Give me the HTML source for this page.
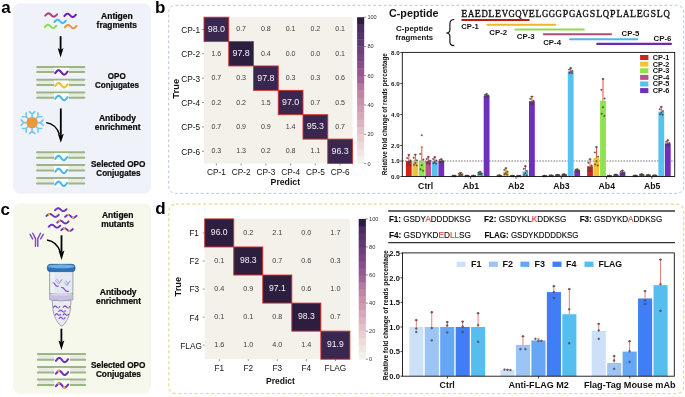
<!DOCTYPE html>
<html><head><meta charset="utf-8"><style>
html,body{margin:0;padding:0;background:#fff;}
svg{display:block;will-change:transform;}
</style></head><body>
<svg width="685" height="397" viewBox="0 0 685 397">
<rect width="685" height="397" fill="#fff"/>
<text x="1.30" y="13.10" font-size="17" font-family='"Liberation Sans", sans-serif' font-weight="bold" fill="#000" text-anchor="start" >a</text>
<text x="154.90" y="12.90" font-size="17" font-family='"Liberation Sans", sans-serif' font-weight="bold" fill="#000" text-anchor="start" >b</text>
<text x="0.50" y="215.00" font-size="17" font-family='"Liberation Sans", sans-serif' font-weight="bold" fill="#000" text-anchor="start" >c</text>
<text x="155.20" y="214.40" font-size="17" font-family='"Liberation Sans", sans-serif' font-weight="bold" fill="#000" text-anchor="start" >d</text>
<rect x="13" y="3.5" width="138" height="190.2" rx="7" fill="#eff2f8"/>
<polyline points="45.20,15.61 45.70,15.14 46.19,14.66 46.69,14.21 47.18,13.82 47.68,13.54 48.18,13.38 48.67,13.36 49.17,13.48 49.66,13.73 50.16,14.09 50.65,14.52 51.15,15.00 51.65,15.48 52.14,15.91 52.64,16.27 53.13,16.52 53.63,16.64 54.12,16.62 54.62,16.46 55.12,16.18 55.61,15.79 56.11,15.34 56.60,14.86 57.10,14.39" fill="none" stroke="#b03f6f" stroke-width="2.0" stroke-linecap="round" stroke-linejoin="round"/>
<polyline points="64.40,15.96 64.88,15.49 65.36,15.01 65.84,14.56 66.32,14.17 66.80,13.89 67.28,13.73 67.75,13.71 68.23,13.83 68.71,14.08 69.19,14.44 69.67,14.87 70.15,15.35 70.63,15.83 71.11,16.26 71.59,16.62 72.07,16.87 72.55,16.99 73.03,16.97 73.50,16.81 73.98,16.53 74.46,16.14 74.94,15.69 75.42,15.21 75.90,14.74" fill="none" stroke="#6a1fb0" stroke-width="2.0" stroke-linecap="round" stroke-linejoin="round"/>
<polyline points="54.40,21.96 54.88,21.49 55.35,21.01 55.82,20.56 56.30,20.17 56.77,19.89 57.25,19.73 57.73,19.71 58.20,19.83 58.67,20.08 59.15,20.44 59.62,20.87 60.10,21.35 60.57,21.83 61.05,22.26 61.52,22.62 62.00,22.87 62.48,22.99 62.95,22.97 63.42,22.81 63.90,22.53 64.38,22.14 64.85,21.69 65.33,21.21 65.80,20.74" fill="none" stroke="#4ab8ee" stroke-width="2.0" stroke-linecap="round" stroke-linejoin="round"/>
<polyline points="44.90,26.96 45.38,26.49 45.85,26.01 46.32,25.56 46.80,25.17 47.27,24.89 47.75,24.73 48.23,24.71 48.70,24.83 49.17,25.08 49.65,25.44 50.12,25.87 50.60,26.35 51.07,26.83 51.55,27.26 52.02,27.62 52.50,27.87 52.98,27.99 53.45,27.97 53.92,27.81 54.40,27.53 54.88,27.14 55.35,26.69 55.83,26.21 56.30,25.74" fill="none" stroke="#8ee04a" stroke-width="2.0" stroke-linecap="round" stroke-linejoin="round"/>
<polyline points="64.90,27.21 65.38,26.74 65.87,26.26 66.35,25.81 66.83,25.42 67.32,25.14 67.80,24.98 68.28,24.96 68.77,25.08 69.25,25.33 69.73,25.69 70.22,26.12 70.70,26.60 71.18,27.08 71.67,27.51 72.15,27.87 72.63,28.12 73.12,28.24 73.60,28.22 74.08,28.06 74.57,27.78 75.05,27.39 75.53,26.94 76.02,26.46 76.50,25.99" fill="none" stroke="#e8963c" stroke-width="2.0" stroke-linecap="round" stroke-linejoin="round"/>
<line x1="60.60" y1="36.20" x2="60.60" y2="50.10" stroke="#000" stroke-width="1.8" />
<path d="M57.70,48.10 L60.60,57.40 L63.50,48.10 L60.60,49.90 Z" fill="#000"/>
<rect x="37.20" y="67.40" width="47.10" height="4.20" fill="#e8ebe1" />
<line x1="37.10" y1="66.90" x2="84.40" y2="66.90" stroke="#9bb585" stroke-width="2.0" stroke-linecap="round"/>
<line x1="37.10" y1="72.10" x2="84.40" y2="72.10" stroke="#9bb585" stroke-width="2.0" stroke-linecap="round"/>
<rect x="54.00" y="67.80" width="14.80" height="8.00" fill="#ffffff" />
<polyline points="55.20,73.21 55.72,72.58 56.23,71.94 56.75,71.34 57.27,70.83 57.78,70.45 58.30,70.24 58.82,70.21 59.33,70.37 59.85,70.70 60.37,71.18 60.88,71.76 61.40,72.40 61.92,73.04 62.43,73.62 62.95,74.10 63.47,74.43 63.98,74.59 64.50,74.56 65.02,74.35 65.53,73.97 66.05,73.46 66.57,72.86 67.08,72.22 67.60,71.59" fill="none" stroke="#6a1fb0" stroke-width="2.1" stroke-linecap="round" stroke-linejoin="round"/>
<rect x="37.20" y="80.20" width="47.10" height="4.20" fill="#e8ebe1" />
<line x1="37.10" y1="79.70" x2="84.40" y2="79.70" stroke="#9bb585" stroke-width="2.0" stroke-linecap="round"/>
<line x1="37.10" y1="84.90" x2="84.40" y2="84.90" stroke="#9bb585" stroke-width="2.0" stroke-linecap="round"/>
<rect x="54.00" y="80.60" width="14.80" height="8.00" fill="#ffffff" />
<polyline points="55.20,86.01 55.72,85.38 56.23,84.74 56.75,84.14 57.27,83.63 57.78,83.25 58.30,83.04 58.82,83.01 59.33,83.17 59.85,83.50 60.37,83.98 60.88,84.56 61.40,85.20 61.92,85.84 62.43,86.42 62.95,86.90 63.47,87.23 63.98,87.39 64.50,87.36 65.02,87.15 65.53,86.77 66.05,86.26 66.57,85.66 67.08,85.02 67.60,84.39" fill="none" stroke="#f0c030" stroke-width="2.1" stroke-linecap="round" stroke-linejoin="round"/>
<rect x="37.20" y="93.00" width="47.10" height="4.20" fill="#e8ebe1" />
<line x1="37.10" y1="92.50" x2="84.40" y2="92.50" stroke="#9bb585" stroke-width="2.0" stroke-linecap="round"/>
<line x1="37.10" y1="97.70" x2="84.40" y2="97.70" stroke="#9bb585" stroke-width="2.0" stroke-linecap="round"/>
<rect x="54.00" y="93.40" width="14.80" height="8.00" fill="#ffffff" />
<polyline points="55.20,98.81 55.72,98.18 56.23,97.54 56.75,96.94 57.27,96.43 57.78,96.05 58.30,95.84 58.82,95.81 59.33,95.97 59.85,96.30 60.37,96.78 60.88,97.36 61.40,98.00 61.92,98.64 62.43,99.22 62.95,99.70 63.47,100.03 63.98,100.19 64.50,100.16 65.02,99.95 65.53,99.57 66.05,99.06 66.57,98.46 67.08,97.82 67.60,97.19" fill="none" stroke="#4ab8ee" stroke-width="2.1" stroke-linecap="round" stroke-linejoin="round"/>
<rect x="37.10" y="152.70" width="47.10" height="4.50" fill="#e8ebe1" />
<line x1="37.00" y1="152.20" x2="84.30" y2="152.20" stroke="#9bb585" stroke-width="2.0" stroke-linecap="round"/>
<line x1="37.00" y1="157.70" x2="84.30" y2="157.70" stroke="#9bb585" stroke-width="2.0" stroke-linecap="round"/>
<rect x="54.10" y="153.10" width="14.20" height="8.30" fill="#ffffff" />
<polyline points="55.30,158.81 55.79,158.18 56.28,157.54 56.78,156.94 57.27,156.43 57.76,156.05 58.25,155.84 58.74,155.81 59.23,155.97 59.73,156.30 60.22,156.78 60.71,157.36 61.20,158.00 61.69,158.64 62.18,159.22 62.68,159.70 63.17,160.03 63.66,160.19 64.15,160.16 64.64,159.95 65.13,159.57 65.62,159.06 66.12,158.46 66.61,157.82 67.10,157.19" fill="none" stroke="#4ab8ee" stroke-width="2.1" stroke-linecap="round" stroke-linejoin="round"/>
<rect x="37.10" y="165.60" width="47.10" height="4.50" fill="#e8ebe1" />
<line x1="37.00" y1="165.10" x2="84.30" y2="165.10" stroke="#9bb585" stroke-width="2.0" stroke-linecap="round"/>
<line x1="37.00" y1="170.60" x2="84.30" y2="170.60" stroke="#9bb585" stroke-width="2.0" stroke-linecap="round"/>
<rect x="54.10" y="166.00" width="14.20" height="8.30" fill="#ffffff" />
<polyline points="55.30,171.71 55.79,171.08 56.28,170.44 56.78,169.84 57.27,169.33 57.76,168.95 58.25,168.74 58.74,168.71 59.23,168.87 59.73,169.20 60.22,169.68 60.71,170.26 61.20,170.90 61.69,171.54 62.18,172.12 62.68,172.60 63.17,172.93 63.66,173.09 64.15,173.06 64.64,172.85 65.13,172.47 65.62,171.96 66.12,171.36 66.61,170.72 67.10,170.09" fill="none" stroke="#4ab8ee" stroke-width="2.1" stroke-linecap="round" stroke-linejoin="round"/>
<rect x="37.10" y="178.50" width="47.10" height="4.50" fill="#e8ebe1" />
<line x1="37.00" y1="178.00" x2="84.30" y2="178.00" stroke="#9bb585" stroke-width="2.0" stroke-linecap="round"/>
<line x1="37.00" y1="183.50" x2="84.30" y2="183.50" stroke="#9bb585" stroke-width="2.0" stroke-linecap="round"/>
<rect x="54.10" y="178.90" width="14.20" height="8.30" fill="#ffffff" />
<polyline points="55.30,184.61 55.79,183.98 56.28,183.34 56.78,182.74 57.27,182.23 57.76,181.85 58.25,181.64 58.74,181.61 59.23,181.77 59.73,182.10 60.22,182.58 60.71,183.16 61.20,183.80 61.69,184.44 62.18,185.02 62.68,185.50 63.17,185.83 63.66,185.99 64.15,185.96 64.64,185.75 65.13,185.37 65.62,184.86 66.12,184.26 66.61,183.62 67.10,182.99" fill="none" stroke="#4ab8ee" stroke-width="2.1" stroke-linecap="round" stroke-linejoin="round"/>
<path d="M37.10,122.60 L40.50,122.60 M43.10,125.30 L40.50,122.60 L43.10,119.90" stroke="#72caee" stroke-width="1.6" fill="none" stroke-linecap="round" stroke-linejoin="round"/>
<path d="M35.64,126.14 L38.04,128.54 M37.97,132.29 L38.04,128.54 L41.79,128.47" stroke="#72caee" stroke-width="1.6" fill="none" stroke-linecap="round" stroke-linejoin="round"/>
<path d="M32.10,127.60 L32.10,131.00 M29.40,133.60 L32.10,131.00 L34.80,133.60" stroke="#72caee" stroke-width="1.6" fill="none" stroke-linecap="round" stroke-linejoin="round"/>
<path d="M28.56,126.14 L26.16,128.54 M22.41,128.47 L26.16,128.54 L26.23,132.29" stroke="#72caee" stroke-width="1.6" fill="none" stroke-linecap="round" stroke-linejoin="round"/>
<path d="M27.10,122.60 L23.70,122.60 M21.10,119.90 L23.70,122.60 L21.10,125.30" stroke="#72caee" stroke-width="1.6" fill="none" stroke-linecap="round" stroke-linejoin="round"/>
<path d="M28.56,119.06 L26.16,116.66 M26.23,112.91 L26.16,116.66 L22.41,116.73" stroke="#72caee" stroke-width="1.6" fill="none" stroke-linecap="round" stroke-linejoin="round"/>
<path d="M32.10,117.60 L32.10,114.20 M34.80,111.60 L32.10,114.20 L29.40,111.60" stroke="#72caee" stroke-width="1.6" fill="none" stroke-linecap="round" stroke-linejoin="round"/>
<path d="M35.64,119.06 L38.04,116.66 M41.79,116.73 L38.04,116.66 L37.97,112.91" stroke="#72caee" stroke-width="1.6" fill="none" stroke-linecap="round" stroke-linejoin="round"/>
<circle cx="32.1" cy="122.6" r="5.7" fill="#e99a3e"/>
<line x1="60.80" y1="108.50" x2="60.80" y2="135.80" stroke="#000" stroke-width="1.8" />
<path d="M57.80,133.80 L60.80,142.80 L63.80,133.80 L60.80,135.60 Z" fill="#000"/>
<path d="M46.2,122.6 Q56,124 59.5,134.5" stroke="#000" stroke-width="1.4" fill="none"/>
<text x="101.00" y="18.70" font-size="8.2" font-family='"Liberation Sans", sans-serif' font-weight="bold" fill="#0a0a0a" text-anchor="start" textLength="31.82" lengthAdjust="spacingAndGlyphs"  stroke="#0a0a0a" stroke-width="0.22">Antigen</text>
<text x="96.60" y="27.90" font-size="8.2" font-family='"Liberation Sans", sans-serif' font-weight="bold" fill="#0a0a0a" text-anchor="start" textLength="40.40" lengthAdjust="spacingAndGlyphs"  stroke="#0a0a0a" stroke-width="0.22">fragments</text>
<text x="107.80" y="78.90" font-size="8.2" font-family='"Liberation Sans", sans-serif' font-weight="bold" fill="#0a0a0a" text-anchor="start" textLength="17.88" lengthAdjust="spacingAndGlyphs"  stroke="#0a0a0a" stroke-width="0.22">OPO</text>
<text x="95.00" y="88.30" font-size="8.2" font-family='"Liberation Sans", sans-serif' font-weight="bold" fill="#0a0a0a" text-anchor="start" textLength="44.00" lengthAdjust="spacingAndGlyphs"  stroke="#0a0a0a" stroke-width="0.22">Conjugates</text>
<text x="98.90" y="120.90" font-size="8.2" font-family='"Liberation Sans", sans-serif' font-weight="bold" fill="#0a0a0a" text-anchor="start" textLength="37.08" lengthAdjust="spacingAndGlyphs"  stroke="#0a0a0a" stroke-width="0.22">Antibody</text>
<text x="94.80" y="130.00" font-size="8.2" font-family='"Liberation Sans", sans-serif' font-weight="bold" fill="#0a0a0a" text-anchor="start" textLength="45.70" lengthAdjust="spacingAndGlyphs"  stroke="#0a0a0a" stroke-width="0.22">enrichment</text>
<text x="91.10" y="166.60" font-size="8.2" font-family='"Liberation Sans", sans-serif' font-weight="bold" fill="#0a0a0a" text-anchor="start" textLength="54.29" lengthAdjust="spacingAndGlyphs"  stroke="#0a0a0a" stroke-width="0.22">Selected OPO</text>
<text x="96.30" y="175.80" font-size="8.2" font-family='"Liberation Sans", sans-serif' font-weight="bold" fill="#0a0a0a" text-anchor="start" textLength="44.20" lengthAdjust="spacingAndGlyphs"  stroke="#0a0a0a" stroke-width="0.22">Conjugates</text>
<rect x="13" y="203.3" width="138" height="190.5" rx="7" fill="#f7f8ec"/>
<polyline points="55.00,210.23 55.48,209.82 55.97,209.40 56.45,209.00 56.93,208.66 57.42,208.42 57.90,208.28 58.38,208.26 58.87,208.36 59.35,208.58 59.83,208.90 60.32,209.28 60.80,209.70 61.28,210.12 61.77,210.50 62.25,210.82 62.73,211.04 63.22,211.14 63.70,211.12 64.18,210.98 64.67,210.74 65.15,210.40 65.63,210.00 66.12,209.58 66.60,209.17" fill="none" stroke="#6c32c2" stroke-width="1.9" stroke-linecap="round" stroke-linejoin="round"/>
<polyline points="46.40,215.93 46.92,215.52 47.43,215.10 47.95,214.70 48.47,214.36 48.98,214.12 49.50,213.98 50.02,213.96 50.53,214.06 51.05,214.28 51.57,214.60 52.08,214.98 52.60,215.40 53.12,215.82 53.63,216.20 54.15,216.52 54.67,216.74 55.18,216.84 55.70,216.82 56.22,216.68 56.73,216.44 57.25,216.10 57.77,215.70 58.28,215.28 58.80,214.87" fill="none" stroke="#6c32c2" stroke-width="1.9" stroke-linecap="round" stroke-linejoin="round"/>
<circle cx="48.88" cy="214.16" r="1.15" fill="#f2a640"/>
<polyline points="65.10,216.83 65.58,216.42 66.06,216.00 66.54,215.60 67.02,215.26 67.50,215.02 67.97,214.88 68.45,214.86 68.93,214.96 69.41,215.18 69.89,215.50 70.37,215.88 70.85,216.30 71.33,216.72 71.81,217.10 72.29,217.42 72.77,217.64 73.25,217.74 73.72,217.72 74.20,217.58 74.68,217.34 75.16,217.00 75.64,216.60 76.12,216.18 76.60,215.77" fill="none" stroke="#6c32c2" stroke-width="1.9" stroke-linecap="round" stroke-linejoin="round"/>
<circle cx="68.20" cy="214.85" r="1.15" fill="#f2a640"/>
<circle cx="73.15" cy="217.73" r="1.15" fill="#f2a640"/>
<polyline points="57.20,222.53 57.68,222.12 58.15,221.70 58.62,221.30 59.10,220.96 59.58,220.72 60.05,220.58 60.53,220.56 61.00,220.66 61.48,220.88 61.95,221.20 62.43,221.58 62.90,222.00 63.38,222.42 63.85,222.80 64.33,223.12 64.80,223.34 65.28,223.44 65.75,223.42 66.23,223.28 66.70,223.04 67.17,222.70 67.65,222.30 68.12,221.88 68.60,221.47" fill="none" stroke="#6c32c2" stroke-width="1.9" stroke-linecap="round" stroke-linejoin="round"/>
<circle cx="59.25" cy="220.87" r="1.15" fill="#f2a640"/>
<polyline points="48.70,226.73 49.18,226.32 49.67,225.90 50.15,225.50 50.63,225.16 51.12,224.92 51.60,224.78 52.08,224.76 52.57,224.86 53.05,225.08 53.53,225.40 54.02,225.78 54.50,226.20 54.98,226.62 55.47,227.00 55.95,227.32 56.43,227.54 56.92,227.64 57.40,227.62 57.88,227.48 58.37,227.24 58.85,226.90 59.33,226.50 59.82,226.08 60.30,225.67" fill="none" stroke="#6c32c2" stroke-width="1.9" stroke-linecap="round" stroke-linejoin="round"/>
<polyline points="61.20,230.13 61.68,229.72 62.17,229.30 62.65,228.90 63.13,228.56 63.62,228.32 64.10,228.18 64.58,228.16 65.07,228.26 65.55,228.48 66.03,228.80 66.52,229.18 67.00,229.60 67.48,230.02 67.97,230.40 68.45,230.72 68.93,230.94 69.42,231.04 69.90,231.02 70.38,230.88 70.87,230.64 71.35,230.30 71.83,229.90 72.32,229.48 72.80,229.07" fill="none" stroke="#6c32c2" stroke-width="1.9" stroke-linecap="round" stroke-linejoin="round"/>
<circle cx="64.22" cy="228.16" r="1.15" fill="#f2a640"/>
<circle cx="69.32" cy="231.03" r="1.15" fill="#f2a640"/>
<path d="M35.5,246.2 L35.5,238.6 L32.8,233.2 M37.8,246.2 L37.8,238.6 L40.5,233.2 M30.1,234.3 L32.6,238.9 M43.2,234.3 L40.7,238.9" stroke="#7a4cc6" stroke-width="1.45" fill="none" stroke-linecap="round" stroke-linejoin="round"/>
<line x1="61.50" y1="235.30" x2="61.50" y2="252.60" stroke="#000" stroke-width="1.8" />
<path d="M58.60,250.60 L61.50,260.10 L64.40,250.60 L61.50,252.40 Z" fill="#000"/>
<path d="M47,240 Q57,241.5 60.6,252.5" stroke="#000" stroke-width="1.4" fill="none"/>
<path d="M49.6,271 L49.6,294 L72.9,294 L72.9,271 Z" fill="#e3e9f1" stroke="#8a909a" stroke-width="0.8"/>
<rect x="51.2" y="272" width="3" height="21" fill="#eef2f8"/>
<path d="M52.2,300.5 L53.2,311 C54.5,318 58.5,324.6 61.7,326 C64.9,324.6 68.9,318 70.1,311 L71.1,300.5 Z" fill="#e6ebf4" stroke="#8a909a" stroke-width="0.8"/>
<path d="M49.6,294 L49.6,299.8 Q61.2,302 72.9,299.8 L72.9,294 Z" fill="#cbbfe2" stroke="#8a909a" stroke-width="0.6"/>
<ellipse cx="61.25" cy="294.3" rx="11.2" ry="1.2" fill="#ded6ef"/>
<rect x="47.3" y="264.3" width="27.8" height="7.3" rx="3.2" fill="#2f70b8" stroke="#1d4a7a" stroke-width="0.6"/>
<ellipse cx="61.2" cy="266.4" rx="13.2" ry="1.9" fill="#6cb0e6"/>
<path d="M55.5,281 L58.5,283.5 M56.5,279 L59.2,282 M59.5,283.5 L61.5,280 M60.2,282 L62,279.3 M64.5,282.5 L67,285.5 M66,281 L68,284 M67,285.5 L69.5,282 M68,284 L70,281" stroke="#a998de" stroke-width="0.9" fill="none" stroke-linecap="round"/>
<path d="M53,282.8 Q54.5,283 55.5,285 Q56.5,286.8 58.3,286" stroke="#7a3fd0" stroke-width="1.1" fill="none" stroke-linecap="round"/>
<circle cx="53.3" cy="282.8" r="0.8" fill="#f2a640"/>
<path d="M61.5,287.5 Q63.5,287.2 64.5,289.5 Q65.8,291.8 68.5,291.3" stroke="#7a3fd0" stroke-width="1.1" fill="none" stroke-linecap="round"/>
<polyline points="53.50,307.23 53.76,306.98 54.02,306.71 54.27,306.47 54.53,306.26 54.79,306.10 55.05,306.02 55.31,306.00 55.57,306.07 55.83,306.21 56.08,306.40 56.34,306.64 56.60,306.90 56.86,307.16 57.12,307.40 57.38,307.59 57.63,307.73 57.89,307.80 58.15,307.78 58.41,307.70 58.67,307.54 58.93,307.33 59.18,307.09 59.44,306.82 59.70,306.57" fill="none" stroke="#7a3fd0" stroke-width="1.15" stroke-linecap="round" stroke-linejoin="round"/>
<circle cx="58.40" cy="307.50" r="0.75" fill="#f2a640"/>
<polyline points="63.20,307.23 63.48,306.98 63.75,306.71 64.03,306.47 64.30,306.26 64.58,306.10 64.85,306.02 65.12,306.00 65.40,306.07 65.67,306.21 65.95,306.40 66.22,306.64 66.50,306.90 66.78,307.16 67.05,307.40 67.33,307.59 67.60,307.73 67.88,307.80 68.15,307.78 68.42,307.70 68.70,307.54 68.97,307.33 69.25,307.09 69.52,306.82 69.80,306.57" fill="none" stroke="#7a3fd0" stroke-width="1.15" stroke-linecap="round" stroke-linejoin="round"/>
<circle cx="68.50" cy="307.50" r="0.75" fill="#f2a640"/>
<polyline points="58.80,311.43 59.07,311.18 59.35,310.91 59.62,310.67 59.90,310.46 60.17,310.30 60.45,310.22 60.73,310.20 61.00,310.27 61.27,310.41 61.55,310.60 61.83,310.84 62.10,311.10 62.38,311.36 62.65,311.60 62.93,311.79 63.20,311.93 63.48,312.00 63.75,311.98 64.03,311.90 64.30,311.74 64.58,311.53 64.85,311.29 65.12,311.02 65.40,310.77" fill="none" stroke="#7a3fd0" stroke-width="1.15" stroke-linecap="round" stroke-linejoin="round"/>
<circle cx="64.10" cy="311.70" r="0.75" fill="#f2a640"/>
<polyline points="55.30,314.93 55.52,314.68 55.74,314.41 55.96,314.17 56.18,313.96 56.40,313.80 56.62,313.72 56.85,313.70 57.07,313.77 57.29,313.91 57.51,314.10 57.73,314.34 57.95,314.60 58.17,314.86 58.39,315.10 58.61,315.29 58.83,315.43 59.05,315.50 59.27,315.48 59.50,315.40 59.72,315.24 59.94,315.03 60.16,314.79 60.38,314.52 60.60,314.27" fill="none" stroke="#7a3fd0" stroke-width="1.15" stroke-linecap="round" stroke-linejoin="round"/>
<circle cx="59.30" cy="315.20" r="0.75" fill="#f2a640"/>
<polyline points="63.20,314.93 63.42,314.68 63.64,314.41 63.86,314.17 64.08,313.96 64.30,313.80 64.53,313.72 64.75,313.70 64.97,313.77 65.19,313.91 65.41,314.10 65.63,314.34 65.85,314.60 66.07,314.86 66.29,315.10 66.51,315.29 66.73,315.43 66.95,315.50 67.17,315.48 67.40,315.40 67.62,315.24 67.84,315.03 68.06,314.79 68.28,314.52 68.50,314.27" fill="none" stroke="#7a3fd0" stroke-width="1.15" stroke-linecap="round" stroke-linejoin="round"/>
<circle cx="67.20" cy="315.20" r="0.75" fill="#f2a640"/>
<polyline points="59.20,318.43 59.44,318.18 59.68,317.91 59.93,317.67 60.17,317.46 60.41,317.30 60.65,317.22 60.89,317.20 61.13,317.27 61.38,317.41 61.62,317.60 61.86,317.84 62.10,318.10 62.34,318.36 62.58,318.60 62.83,318.79 63.07,318.93 63.31,319.00 63.55,318.98 63.79,318.90 64.03,318.74 64.28,318.53 64.52,318.29 64.76,318.02 65.00,317.77" fill="none" stroke="#7a3fd0" stroke-width="1.15" stroke-linecap="round" stroke-linejoin="round"/>
<circle cx="63.70" cy="318.70" r="0.75" fill="#f2a640"/>
<line x1="61.40" y1="328.70" x2="61.40" y2="342.50" stroke="#000" stroke-width="1.8" />
<path d="M58.50,340.50 L61.40,350.00 L64.30,340.50 L61.40,342.30 Z" fill="#000"/>
<rect x="38.00" y="354.60" width="47.10" height="4.60" fill="#e8eae3" />
<line x1="37.90" y1="354.10" x2="85.20" y2="354.10" stroke="#9bb585" stroke-width="2.0" stroke-linecap="round"/>
<line x1="37.90" y1="359.70" x2="85.20" y2="359.70" stroke="#9bb585" stroke-width="2.0" stroke-linecap="round"/>
<rect x="54.30" y="355.00" width="15.70" height="8.40" fill="#fafaf3" />
<polyline points="55.90,360.77 56.41,360.18 56.92,359.56 57.42,358.99 57.93,358.50 58.44,358.14 58.95,357.94 59.46,357.91 59.97,358.06 60.47,358.38 60.98,358.84 61.49,359.39 62.00,360.00 62.51,360.61 63.02,361.16 63.52,361.62 64.03,361.94 64.54,362.09 65.05,362.06 65.56,361.86 66.07,361.50 66.58,361.01 67.08,360.44 67.59,359.82 68.10,359.23" fill="none" stroke="#6c32c2" stroke-width="2.1" stroke-linecap="round" stroke-linejoin="round"/>
<rect x="38.00" y="367.50" width="47.10" height="4.60" fill="#e8eae3" />
<line x1="37.90" y1="367.00" x2="85.20" y2="367.00" stroke="#9bb585" stroke-width="2.0" stroke-linecap="round"/>
<line x1="37.90" y1="372.60" x2="85.20" y2="372.60" stroke="#9bb585" stroke-width="2.0" stroke-linecap="round"/>
<rect x="54.30" y="367.90" width="15.70" height="8.40" fill="#fafaf3" />
<polyline points="55.90,373.67 56.41,373.08 56.92,372.46 57.42,371.89 57.93,371.40 58.44,371.04 58.95,370.84 59.46,370.81 59.97,370.96 60.47,371.28 60.98,371.74 61.49,372.29 62.00,372.90 62.51,373.51 63.02,374.06 63.52,374.52 64.03,374.84 64.54,374.99 65.05,374.96 65.56,374.76 66.07,374.40 66.58,373.91 67.08,373.34 67.59,372.72 68.10,372.13" fill="none" stroke="#6c32c2" stroke-width="2.1" stroke-linecap="round" stroke-linejoin="round"/>
<circle cx="58.58" cy="370.97" r="1.3" fill="#f2a640"/>
<rect x="38.00" y="380.00" width="47.10" height="4.60" fill="#e8eae3" />
<line x1="37.90" y1="379.50" x2="85.20" y2="379.50" stroke="#9bb585" stroke-width="2.0" stroke-linecap="round"/>
<line x1="37.90" y1="385.10" x2="85.20" y2="385.10" stroke="#9bb585" stroke-width="2.0" stroke-linecap="round"/>
<rect x="54.30" y="380.40" width="15.70" height="8.40" fill="#fafaf3" />
<polyline points="55.90,386.17 56.41,385.58 56.92,384.96 57.42,384.39 57.93,383.90 58.44,383.54 58.95,383.34 59.46,383.31 59.97,383.46 60.47,383.78 60.98,384.24 61.49,384.79 62.00,385.40 62.51,386.01 63.02,386.56 63.52,387.02 64.03,387.34 64.54,387.49 65.05,387.46 65.56,387.26 66.07,386.90 66.58,386.41 67.08,385.84 67.59,385.22 68.10,384.63" fill="none" stroke="#6c32c2" stroke-width="2.1" stroke-linecap="round" stroke-linejoin="round"/>
<circle cx="58.58" cy="383.47" r="1.3" fill="#f2a640"/>
<circle cx="64.20" cy="387.40" r="1.3" fill="#f2a640"/>
<text x="102.00" y="217.80" font-size="8.2" font-family='"Liberation Sans", sans-serif' font-weight="bold" fill="#0a0a0a" text-anchor="start" textLength="31.42" lengthAdjust="spacingAndGlyphs"  stroke="#0a0a0a" stroke-width="0.22">Antigen</text>
<text x="101.20" y="227.10" font-size="8.2" font-family='"Liberation Sans", sans-serif' font-weight="bold" fill="#0a0a0a" text-anchor="start" textLength="32.79" lengthAdjust="spacingAndGlyphs"  stroke="#0a0a0a" stroke-width="0.22">mutants</text>
<text x="99.80" y="295.30" font-size="8.2" font-family='"Liberation Sans", sans-serif' font-weight="bold" fill="#0a0a0a" text-anchor="start" textLength="36.78" lengthAdjust="spacingAndGlyphs"  stroke="#0a0a0a" stroke-width="0.22">Antibody</text>
<text x="96.00" y="304.40" font-size="8.2" font-family='"Liberation Sans", sans-serif' font-weight="bold" fill="#0a0a0a" text-anchor="start" textLength="45.00" lengthAdjust="spacingAndGlyphs"  stroke="#0a0a0a" stroke-width="0.22">enrichment</text>
<text x="91.10" y="367.60" font-size="8.2" font-family='"Liberation Sans", sans-serif' font-weight="bold" fill="#0a0a0a" text-anchor="start" textLength="54.29" lengthAdjust="spacingAndGlyphs"  stroke="#0a0a0a" stroke-width="0.22">Selected OPO</text>
<text x="95.90" y="376.80" font-size="8.2" font-family='"Liberation Sans", sans-serif' font-weight="bold" fill="#0a0a0a" text-anchor="start" textLength="45.10" lengthAdjust="spacingAndGlyphs"  stroke="#0a0a0a" stroke-width="0.22">Conjugates</text>
<rect x="168.7" y="5.3" width="515" height="188.1" rx="7" fill="none" stroke="#b3c5de" stroke-width="1" stroke-dasharray="2.8 2.4"/>
<rect x="168.8" y="204.2" width="514.9" height="189.3" rx="7" fill="none" stroke="#e3d98f" stroke-width="1.2" stroke-dasharray="3 2.5"/>
<rect x="204.00" y="17.20" width="148.50" height="146.28" fill="#f4f1ea" />
<rect x="204.00" y="17.20" width="24.75" height="24.38" fill="#39274f" stroke="#d3312c" stroke-width="0.9"/>
<text x="207.72" y="31.78" font-size="8.9" font-family='"Liberation Sans", sans-serif' fill="#f4f4f8" text-anchor="start" textLength="17.32" lengthAdjust="spacingAndGlyphs" >98.0</text>
<text x="236.19" y="31.44" font-size="6.7" font-family='"Liberation Sans", sans-serif' fill="#404040" text-anchor="start" textLength="9.87" lengthAdjust="spacingAndGlyphs" >0.7</text>
<text x="260.94" y="31.44" font-size="6.7" font-family='"Liberation Sans", sans-serif' fill="#404040" text-anchor="start" textLength="9.87" lengthAdjust="spacingAndGlyphs" >0.8</text>
<text x="285.69" y="31.44" font-size="6.7" font-family='"Liberation Sans", sans-serif' fill="#404040" text-anchor="start" textLength="9.87" lengthAdjust="spacingAndGlyphs" >0.1</text>
<text x="310.44" y="31.44" font-size="6.7" font-family='"Liberation Sans", sans-serif' fill="#404040" text-anchor="start" textLength="9.87" lengthAdjust="spacingAndGlyphs" >0.2</text>
<text x="335.19" y="31.44" font-size="6.7" font-family='"Liberation Sans", sans-serif' fill="#404040" text-anchor="start" textLength="9.87" lengthAdjust="spacingAndGlyphs" >0.1</text>
<text x="211.44" y="55.82" font-size="6.7" font-family='"Liberation Sans", sans-serif' fill="#404040" text-anchor="start" textLength="9.87" lengthAdjust="spacingAndGlyphs" >1.6</text>
<rect x="228.75" y="41.58" width="24.75" height="24.38" fill="#2d1e40" stroke="#d3312c" stroke-width="0.9"/>
<text x="232.47" y="56.16" font-size="8.9" font-family='"Liberation Sans", sans-serif' fill="#f4f4f8" text-anchor="start" textLength="17.32" lengthAdjust="spacingAndGlyphs" >97.8</text>
<text x="260.94" y="55.82" font-size="6.7" font-family='"Liberation Sans", sans-serif' fill="#404040" text-anchor="start" textLength="9.87" lengthAdjust="spacingAndGlyphs" >0.4</text>
<text x="285.69" y="55.82" font-size="6.7" font-family='"Liberation Sans", sans-serif' fill="#404040" text-anchor="start" textLength="9.87" lengthAdjust="spacingAndGlyphs" >0.0</text>
<text x="310.44" y="55.82" font-size="6.7" font-family='"Liberation Sans", sans-serif' fill="#404040" text-anchor="start" textLength="9.87" lengthAdjust="spacingAndGlyphs" >0.0</text>
<text x="335.19" y="55.82" font-size="6.7" font-family='"Liberation Sans", sans-serif' fill="#404040" text-anchor="start" textLength="9.87" lengthAdjust="spacingAndGlyphs" >0.1</text>
<text x="211.44" y="80.20" font-size="6.7" font-family='"Liberation Sans", sans-serif' fill="#404040" text-anchor="start" textLength="9.87" lengthAdjust="spacingAndGlyphs" >0.7</text>
<text x="236.19" y="80.20" font-size="6.7" font-family='"Liberation Sans", sans-serif' fill="#404040" text-anchor="start" textLength="9.87" lengthAdjust="spacingAndGlyphs" >0.3</text>
<rect x="253.50" y="65.96" width="24.75" height="24.38" fill="#39274f" stroke="#d3312c" stroke-width="0.9"/>
<text x="257.22" y="80.54" font-size="8.9" font-family='"Liberation Sans", sans-serif' fill="#f4f4f8" text-anchor="start" textLength="17.32" lengthAdjust="spacingAndGlyphs" >97.8</text>
<text x="285.69" y="80.20" font-size="6.7" font-family='"Liberation Sans", sans-serif' fill="#404040" text-anchor="start" textLength="9.87" lengthAdjust="spacingAndGlyphs" >0.3</text>
<text x="310.44" y="80.20" font-size="6.7" font-family='"Liberation Sans", sans-serif' fill="#404040" text-anchor="start" textLength="9.87" lengthAdjust="spacingAndGlyphs" >0.3</text>
<text x="335.19" y="80.20" font-size="6.7" font-family='"Liberation Sans", sans-serif' fill="#404040" text-anchor="start" textLength="9.87" lengthAdjust="spacingAndGlyphs" >0.6</text>
<text x="211.44" y="104.58" font-size="6.7" font-family='"Liberation Sans", sans-serif' fill="#404040" text-anchor="start" textLength="9.87" lengthAdjust="spacingAndGlyphs" >0.2</text>
<text x="236.19" y="104.58" font-size="6.7" font-family='"Liberation Sans", sans-serif' fill="#404040" text-anchor="start" textLength="9.87" lengthAdjust="spacingAndGlyphs" >0.2</text>
<text x="260.94" y="104.58" font-size="6.7" font-family='"Liberation Sans", sans-serif' fill="#404040" text-anchor="start" textLength="9.87" lengthAdjust="spacingAndGlyphs" >1.5</text>
<rect x="278.25" y="90.34" width="24.75" height="24.38" fill="#39274f" stroke="#d3312c" stroke-width="0.9"/>
<text x="281.97" y="104.92" font-size="8.9" font-family='"Liberation Sans", sans-serif' fill="#f4f4f8" text-anchor="start" textLength="17.32" lengthAdjust="spacingAndGlyphs" >97.0</text>
<text x="310.44" y="104.58" font-size="6.7" font-family='"Liberation Sans", sans-serif' fill="#404040" text-anchor="start" textLength="9.87" lengthAdjust="spacingAndGlyphs" >0.7</text>
<text x="335.19" y="104.58" font-size="6.7" font-family='"Liberation Sans", sans-serif' fill="#404040" text-anchor="start" textLength="9.87" lengthAdjust="spacingAndGlyphs" >0.5</text>
<text x="211.44" y="128.96" font-size="6.7" font-family='"Liberation Sans", sans-serif' fill="#404040" text-anchor="start" textLength="9.87" lengthAdjust="spacingAndGlyphs" >0.7</text>
<text x="236.19" y="128.96" font-size="6.7" font-family='"Liberation Sans", sans-serif' fill="#404040" text-anchor="start" textLength="9.87" lengthAdjust="spacingAndGlyphs" >0.9</text>
<text x="260.94" y="128.96" font-size="6.7" font-family='"Liberation Sans", sans-serif' fill="#404040" text-anchor="start" textLength="9.87" lengthAdjust="spacingAndGlyphs" >0.9</text>
<text x="285.69" y="128.96" font-size="6.7" font-family='"Liberation Sans", sans-serif' fill="#404040" text-anchor="start" textLength="9.87" lengthAdjust="spacingAndGlyphs" >1.4</text>
<rect x="303.00" y="114.72" width="24.75" height="24.38" fill="#39274f" stroke="#d3312c" stroke-width="0.9"/>
<text x="306.72" y="129.30" font-size="8.9" font-family='"Liberation Sans", sans-serif' fill="#f4f4f8" text-anchor="start" textLength="17.32" lengthAdjust="spacingAndGlyphs" >95.3</text>
<text x="335.19" y="128.96" font-size="6.7" font-family='"Liberation Sans", sans-serif' fill="#404040" text-anchor="start" textLength="9.87" lengthAdjust="spacingAndGlyphs" >0.7</text>
<text x="211.44" y="153.34" font-size="6.7" font-family='"Liberation Sans", sans-serif' fill="#404040" text-anchor="start" textLength="9.87" lengthAdjust="spacingAndGlyphs" >0.3</text>
<text x="236.19" y="153.34" font-size="6.7" font-family='"Liberation Sans", sans-serif' fill="#404040" text-anchor="start" textLength="9.87" lengthAdjust="spacingAndGlyphs" >1.3</text>
<text x="260.94" y="153.34" font-size="6.7" font-family='"Liberation Sans", sans-serif' fill="#404040" text-anchor="start" textLength="9.87" lengthAdjust="spacingAndGlyphs" >0.2</text>
<text x="285.69" y="153.34" font-size="6.7" font-family='"Liberation Sans", sans-serif' fill="#404040" text-anchor="start" textLength="9.87" lengthAdjust="spacingAndGlyphs" >0.8</text>
<text x="310.44" y="153.34" font-size="6.7" font-family='"Liberation Sans", sans-serif' fill="#404040" text-anchor="start" textLength="9.87" lengthAdjust="spacingAndGlyphs" >1.1</text>
<rect x="327.75" y="139.10" width="24.75" height="24.38" fill="#39274f" stroke="#d3312c" stroke-width="0.9"/>
<text x="331.47" y="153.68" font-size="8.9" font-family='"Liberation Sans", sans-serif' fill="#f4f4f8" text-anchor="start" textLength="17.32" lengthAdjust="spacingAndGlyphs" >96.3</text>
<line x1="202.00" y1="29.39" x2="204.00" y2="29.39" stroke="#555" stroke-width="0.6" />
<text x="181.32" y="32.79" font-size="9.0" font-family='"Liberation Sans", sans-serif' fill="#111" text-anchor="start" textLength="18.87" lengthAdjust="spacingAndGlyphs" >CP-1</text>
<line x1="202.00" y1="53.77" x2="204.00" y2="53.77" stroke="#555" stroke-width="0.6" />
<text x="181.32" y="57.17" font-size="9.0" font-family='"Liberation Sans", sans-serif' fill="#111" text-anchor="start" textLength="18.87" lengthAdjust="spacingAndGlyphs" >CP-2</text>
<line x1="202.00" y1="78.15" x2="204.00" y2="78.15" stroke="#555" stroke-width="0.6" />
<text x="181.32" y="81.55" font-size="9.0" font-family='"Liberation Sans", sans-serif' fill="#111" text-anchor="start" textLength="18.87" lengthAdjust="spacingAndGlyphs" >CP-3</text>
<line x1="202.00" y1="102.53" x2="204.00" y2="102.53" stroke="#555" stroke-width="0.6" />
<text x="181.32" y="105.93" font-size="9.0" font-family='"Liberation Sans", sans-serif' fill="#111" text-anchor="start" textLength="18.87" lengthAdjust="spacingAndGlyphs" >CP-4</text>
<line x1="202.00" y1="126.91" x2="204.00" y2="126.91" stroke="#555" stroke-width="0.6" />
<text x="181.32" y="130.31" font-size="9.0" font-family='"Liberation Sans", sans-serif' fill="#111" text-anchor="start" textLength="18.87" lengthAdjust="spacingAndGlyphs" >CP-5</text>
<line x1="202.00" y1="151.29" x2="204.00" y2="151.29" stroke="#555" stroke-width="0.6" />
<text x="181.32" y="154.69" font-size="9.0" font-family='"Liberation Sans", sans-serif' fill="#111" text-anchor="start" textLength="18.87" lengthAdjust="spacingAndGlyphs" >CP-6</text>
<line x1="216.38" y1="163.48" x2="216.38" y2="165.48" stroke="#555" stroke-width="0.6" />
<text x="206.94" y="174.60" font-size="9.0" font-family='"Liberation Sans", sans-serif' fill="#111" text-anchor="start" textLength="18.87" lengthAdjust="spacingAndGlyphs" >CP-1</text>
<line x1="241.12" y1="163.48" x2="241.12" y2="165.48" stroke="#555" stroke-width="0.6" />
<text x="231.69" y="174.60" font-size="9.0" font-family='"Liberation Sans", sans-serif' fill="#111" text-anchor="start" textLength="18.87" lengthAdjust="spacingAndGlyphs" >CP-2</text>
<line x1="265.88" y1="163.48" x2="265.88" y2="165.48" stroke="#555" stroke-width="0.6" />
<text x="256.44" y="174.60" font-size="9.0" font-family='"Liberation Sans", sans-serif' fill="#111" text-anchor="start" textLength="18.87" lengthAdjust="spacingAndGlyphs" >CP-3</text>
<line x1="290.62" y1="163.48" x2="290.62" y2="165.48" stroke="#555" stroke-width="0.6" />
<text x="281.19" y="174.60" font-size="9.0" font-family='"Liberation Sans", sans-serif' fill="#111" text-anchor="start" textLength="18.87" lengthAdjust="spacingAndGlyphs" >CP-4</text>
<line x1="315.38" y1="163.48" x2="315.38" y2="165.48" stroke="#555" stroke-width="0.6" />
<text x="305.94" y="174.60" font-size="9.0" font-family='"Liberation Sans", sans-serif' fill="#111" text-anchor="start" textLength="18.87" lengthAdjust="spacingAndGlyphs" >CP-5</text>
<line x1="340.12" y1="163.48" x2="340.12" y2="165.48" stroke="#555" stroke-width="0.6" />
<text x="330.69" y="174.60" font-size="9.0" font-family='"Liberation Sans", sans-serif' fill="#111" text-anchor="start" textLength="18.87" lengthAdjust="spacingAndGlyphs" >CP-6</text>
<rect x="357.10" y="156.19" width="7.10" height="7.62" fill="#f4f1ea" />
<rect x="357.10" y="148.87" width="7.10" height="7.62" fill="#f0e6e2" />
<rect x="357.10" y="141.56" width="7.10" height="7.62" fill="#eddbd9" />
<rect x="357.10" y="134.24" width="7.10" height="7.62" fill="#e8cfd1" />
<rect x="357.10" y="126.92" width="7.10" height="7.62" fill="#e3c3ca" />
<rect x="357.10" y="119.61" width="7.10" height="7.62" fill="#ddb5c1" />
<rect x="357.10" y="112.29" width="7.10" height="7.62" fill="#d6a8b8" />
<rect x="357.10" y="104.98" width="7.10" height="7.62" fill="#cf9cb1" />
<rect x="357.10" y="97.66" width="7.10" height="7.62" fill="#c892aa" />
<rect x="357.10" y="90.35" width="7.10" height="7.62" fill="#bd86a4" />
<rect x="357.10" y="83.03" width="7.10" height="7.62" fill="#b27aa0" />
<rect x="357.10" y="75.72" width="7.10" height="7.62" fill="#a06595" />
<rect x="357.10" y="68.41" width="7.10" height="7.62" fill="#95598f" />
<rect x="357.10" y="61.09" width="7.10" height="7.62" fill="#864f88" />
<rect x="357.10" y="53.77" width="7.10" height="7.62" fill="#794780" />
<rect x="357.10" y="46.46" width="7.10" height="7.62" fill="#6c4079" />
<rect x="357.10" y="39.14" width="7.10" height="7.62" fill="#603971" />
<rect x="357.10" y="31.83" width="7.10" height="7.62" fill="#55336a" />
<rect x="357.10" y="24.51" width="7.10" height="7.62" fill="#4a2d60" />
<rect x="357.10" y="17.20" width="7.10" height="7.62" fill="#2c1d40" />
<line x1="364.20" y1="163.50" x2="366.20" y2="163.50" stroke="#444" stroke-width="0.6" />
<text x="367.40" y="165.50" font-size="5.6" font-family='"Liberation Sans", sans-serif' fill="#333" text-anchor="start" >0</text>
<line x1="364.20" y1="134.24" x2="366.20" y2="134.24" stroke="#444" stroke-width="0.6" />
<text x="367.40" y="136.24" font-size="5.6" font-family='"Liberation Sans", sans-serif' fill="#333" text-anchor="start" >20</text>
<line x1="364.20" y1="104.98" x2="366.20" y2="104.98" stroke="#444" stroke-width="0.6" />
<text x="367.40" y="106.98" font-size="5.6" font-family='"Liberation Sans", sans-serif' fill="#333" text-anchor="start" >40</text>
<line x1="364.20" y1="75.72" x2="366.20" y2="75.72" stroke="#444" stroke-width="0.6" />
<text x="367.40" y="77.72" font-size="5.6" font-family='"Liberation Sans", sans-serif' fill="#333" text-anchor="start" >60</text>
<line x1="364.20" y1="46.46" x2="366.20" y2="46.46" stroke="#444" stroke-width="0.6" />
<text x="367.40" y="48.46" font-size="5.6" font-family='"Liberation Sans", sans-serif' fill="#333" text-anchor="start" >80</text>
<line x1="364.20" y1="17.20" x2="366.20" y2="17.20" stroke="#444" stroke-width="0.6" />
<text x="367.40" y="19.20" font-size="5.6" font-family='"Liberation Sans", sans-serif' fill="#333" text-anchor="start" >100</text>
<text x="270.60" y="184.90" font-size="9" font-family='"Liberation Sans", sans-serif' font-weight="bold" fill="#111" text-anchor="start" textLength="29.50" lengthAdjust="spacingAndGlyphs" >Predict</text>
<g transform="translate(178.90,98.70) rotate(-90)">
<text x="0.00" y="0.00" font-size="9" font-family='"Liberation Sans", sans-serif' font-weight="bold" fill="#111" text-anchor="start" textLength="19.82" lengthAdjust="spacingAndGlyphs" >True</text>
</g>
<rect x="204.70" y="218.90" width="145.20" height="140.30" fill="#f4f1ea" />
<rect x="204.70" y="218.90" width="29.04" height="28.06" fill="#2d1e40" stroke="#d3312c" stroke-width="0.9"/>
<text x="210.86" y="235.21" font-size="8.6" font-family='"Liberation Sans", sans-serif' fill="#f4f4f8" text-anchor="start" textLength="16.74" lengthAdjust="spacingAndGlyphs" >96.0</text>
<text x="243.20" y="235.09" font-size="7.0" font-family='"Liberation Sans", sans-serif' fill="#404040" text-anchor="start" textLength="10.12" lengthAdjust="spacingAndGlyphs" >0.2</text>
<text x="272.24" y="235.09" font-size="7.0" font-family='"Liberation Sans", sans-serif' fill="#404040" text-anchor="start" textLength="10.12" lengthAdjust="spacingAndGlyphs" >2.1</text>
<text x="301.28" y="235.09" font-size="7.0" font-family='"Liberation Sans", sans-serif' fill="#404040" text-anchor="start" textLength="10.12" lengthAdjust="spacingAndGlyphs" >0.0</text>
<text x="330.32" y="235.09" font-size="7.0" font-family='"Liberation Sans", sans-serif' fill="#404040" text-anchor="start" textLength="10.12" lengthAdjust="spacingAndGlyphs" >1.7</text>
<text x="214.16" y="263.15" font-size="7.0" font-family='"Liberation Sans", sans-serif' fill="#404040" text-anchor="start" textLength="10.12" lengthAdjust="spacingAndGlyphs" >0.1</text>
<rect x="233.74" y="246.96" width="29.04" height="28.06" fill="#2d1e40" stroke="#d3312c" stroke-width="0.9"/>
<text x="239.90" y="263.27" font-size="8.6" font-family='"Liberation Sans", sans-serif' fill="#f4f4f8" text-anchor="start" textLength="16.74" lengthAdjust="spacingAndGlyphs" >98.3</text>
<text x="272.24" y="263.15" font-size="7.0" font-family='"Liberation Sans", sans-serif' fill="#404040" text-anchor="start" textLength="10.12" lengthAdjust="spacingAndGlyphs" >0.7</text>
<text x="301.28" y="263.15" font-size="7.0" font-family='"Liberation Sans", sans-serif' fill="#404040" text-anchor="start" textLength="10.12" lengthAdjust="spacingAndGlyphs" >0.6</text>
<text x="330.32" y="263.15" font-size="7.0" font-family='"Liberation Sans", sans-serif' fill="#404040" text-anchor="start" textLength="10.12" lengthAdjust="spacingAndGlyphs" >0.3</text>
<text x="214.16" y="291.21" font-size="7.0" font-family='"Liberation Sans", sans-serif' fill="#404040" text-anchor="start" textLength="10.12" lengthAdjust="spacingAndGlyphs" >0.4</text>
<text x="243.20" y="291.21" font-size="7.0" font-family='"Liberation Sans", sans-serif' fill="#404040" text-anchor="start" textLength="10.12" lengthAdjust="spacingAndGlyphs" >0.9</text>
<rect x="262.78" y="275.02" width="29.04" height="28.06" fill="#2d1e40" stroke="#d3312c" stroke-width="0.9"/>
<text x="268.94" y="291.33" font-size="8.6" font-family='"Liberation Sans", sans-serif' fill="#f4f4f8" text-anchor="start" textLength="16.74" lengthAdjust="spacingAndGlyphs" >97.1</text>
<text x="301.28" y="291.21" font-size="7.0" font-family='"Liberation Sans", sans-serif' fill="#404040" text-anchor="start" textLength="10.12" lengthAdjust="spacingAndGlyphs" >0.6</text>
<text x="330.32" y="291.21" font-size="7.0" font-family='"Liberation Sans", sans-serif' fill="#404040" text-anchor="start" textLength="10.12" lengthAdjust="spacingAndGlyphs" >1.0</text>
<text x="214.16" y="319.27" font-size="7.0" font-family='"Liberation Sans", sans-serif' fill="#404040" text-anchor="start" textLength="10.12" lengthAdjust="spacingAndGlyphs" >0.1</text>
<text x="243.20" y="319.27" font-size="7.0" font-family='"Liberation Sans", sans-serif' fill="#404040" text-anchor="start" textLength="10.12" lengthAdjust="spacingAndGlyphs" >0.1</text>
<text x="272.24" y="319.27" font-size="7.0" font-family='"Liberation Sans", sans-serif' fill="#404040" text-anchor="start" textLength="10.12" lengthAdjust="spacingAndGlyphs" >0.8</text>
<rect x="291.82" y="303.08" width="29.04" height="28.06" fill="#2d1e40" stroke="#d3312c" stroke-width="0.9"/>
<text x="297.98" y="319.39" font-size="8.6" font-family='"Liberation Sans", sans-serif' fill="#f4f4f8" text-anchor="start" textLength="16.74" lengthAdjust="spacingAndGlyphs" >98.3</text>
<text x="330.32" y="319.27" font-size="7.0" font-family='"Liberation Sans", sans-serif' fill="#404040" text-anchor="start" textLength="10.12" lengthAdjust="spacingAndGlyphs" >0.7</text>
<text x="214.16" y="347.33" font-size="7.0" font-family='"Liberation Sans", sans-serif' fill="#404040" text-anchor="start" textLength="10.12" lengthAdjust="spacingAndGlyphs" >1.6</text>
<text x="243.20" y="347.33" font-size="7.0" font-family='"Liberation Sans", sans-serif' fill="#404040" text-anchor="start" textLength="10.12" lengthAdjust="spacingAndGlyphs" >1.0</text>
<text x="272.24" y="347.33" font-size="7.0" font-family='"Liberation Sans", sans-serif' fill="#404040" text-anchor="start" textLength="10.12" lengthAdjust="spacingAndGlyphs" >4.0</text>
<text x="301.28" y="347.33" font-size="7.0" font-family='"Liberation Sans", sans-serif' fill="#404040" text-anchor="start" textLength="10.12" lengthAdjust="spacingAndGlyphs" >1.4</text>
<rect x="320.86" y="331.14" width="29.04" height="28.06" fill="#39274f" stroke="#d3312c" stroke-width="0.9"/>
<text x="327.02" y="347.45" font-size="8.6" font-family='"Liberation Sans", sans-serif' fill="#f4f4f8" text-anchor="start" textLength="16.74" lengthAdjust="spacingAndGlyphs" >91.9</text>
<line x1="202.70" y1="232.93" x2="204.70" y2="232.93" stroke="#555" stroke-width="0.6" />
<text x="189.17" y="236.33" font-size="8.7" font-family='"Liberation Sans", sans-serif' fill="#111" text-anchor="start" textLength="9.65" lengthAdjust="spacingAndGlyphs" >F1</text>
<line x1="202.70" y1="260.99" x2="204.70" y2="260.99" stroke="#555" stroke-width="0.6" />
<text x="189.57" y="264.39" font-size="8.7" font-family='"Liberation Sans", sans-serif' fill="#111" text-anchor="start" textLength="9.65" lengthAdjust="spacingAndGlyphs" >F2</text>
<line x1="202.70" y1="289.05" x2="204.70" y2="289.05" stroke="#555" stroke-width="0.6" />
<text x="189.57" y="292.45" font-size="8.7" font-family='"Liberation Sans", sans-serif' fill="#111" text-anchor="start" textLength="9.65" lengthAdjust="spacingAndGlyphs" >F3</text>
<line x1="202.70" y1="317.11" x2="204.70" y2="317.11" stroke="#555" stroke-width="0.6" />
<text x="189.57" y="320.51" font-size="8.7" font-family='"Liberation Sans", sans-serif' fill="#111" text-anchor="start" textLength="9.65" lengthAdjust="spacingAndGlyphs" >F4</text>
<line x1="202.70" y1="345.17" x2="204.70" y2="345.17" stroke="#555" stroke-width="0.6" />
<text x="180.33" y="348.57" font-size="8.7" font-family='"Liberation Sans", sans-serif' fill="#111" text-anchor="start" textLength="21.59" lengthAdjust="spacingAndGlyphs" >FLAG</text>
<line x1="219.22" y1="359.20" x2="219.22" y2="361.20" stroke="#555" stroke-width="0.6" />
<text x="214.41" y="371.00" font-size="8.7" font-family='"Liberation Sans", sans-serif' fill="#111" text-anchor="start" textLength="9.65" lengthAdjust="spacingAndGlyphs" >F1</text>
<line x1="248.26" y1="359.20" x2="248.26" y2="361.20" stroke="#555" stroke-width="0.6" />
<text x="243.45" y="371.00" font-size="8.7" font-family='"Liberation Sans", sans-serif' fill="#111" text-anchor="start" textLength="9.65" lengthAdjust="spacingAndGlyphs" >F2</text>
<line x1="277.30" y1="359.20" x2="277.30" y2="361.20" stroke="#555" stroke-width="0.6" />
<text x="272.49" y="371.00" font-size="8.7" font-family='"Liberation Sans", sans-serif' fill="#111" text-anchor="start" textLength="9.65" lengthAdjust="spacingAndGlyphs" >F3</text>
<line x1="306.34" y1="359.20" x2="306.34" y2="361.20" stroke="#555" stroke-width="0.6" />
<text x="301.53" y="371.00" font-size="8.7" font-family='"Liberation Sans", sans-serif' fill="#111" text-anchor="start" textLength="9.65" lengthAdjust="spacingAndGlyphs" >F4</text>
<line x1="335.38" y1="359.20" x2="335.38" y2="361.20" stroke="#555" stroke-width="0.6" />
<text x="324.59" y="371.00" font-size="8.7" font-family='"Liberation Sans", sans-serif' fill="#111" text-anchor="start" textLength="21.59" lengthAdjust="spacingAndGlyphs" >FLAG</text>
<rect x="358.70" y="352.19" width="7.20" height="7.32" fill="#f4f1ea" />
<rect x="358.70" y="345.17" width="7.20" height="7.32" fill="#f0e6e2" />
<rect x="358.70" y="338.16" width="7.20" height="7.32" fill="#eddbd9" />
<rect x="358.70" y="331.14" width="7.20" height="7.32" fill="#e8cfd1" />
<rect x="358.70" y="324.13" width="7.20" height="7.32" fill="#e3c3ca" />
<rect x="358.70" y="317.11" width="7.20" height="7.32" fill="#ddb5c1" />
<rect x="358.70" y="310.10" width="7.20" height="7.32" fill="#d6a8b8" />
<rect x="358.70" y="303.08" width="7.20" height="7.32" fill="#cf9cb1" />
<rect x="358.70" y="296.07" width="7.20" height="7.32" fill="#c892aa" />
<rect x="358.70" y="289.05" width="7.20" height="7.32" fill="#bd86a4" />
<rect x="358.70" y="282.04" width="7.20" height="7.32" fill="#b27aa0" />
<rect x="358.70" y="275.02" width="7.20" height="7.32" fill="#a06595" />
<rect x="358.70" y="268.01" width="7.20" height="7.32" fill="#95598f" />
<rect x="358.70" y="260.99" width="7.20" height="7.32" fill="#864f88" />
<rect x="358.70" y="253.98" width="7.20" height="7.32" fill="#794780" />
<rect x="358.70" y="246.96" width="7.20" height="7.32" fill="#6c4079" />
<rect x="358.70" y="239.95" width="7.20" height="7.32" fill="#603971" />
<rect x="358.70" y="232.93" width="7.20" height="7.32" fill="#55336a" />
<rect x="358.70" y="225.92" width="7.20" height="7.32" fill="#4a2d60" />
<rect x="358.70" y="218.90" width="7.20" height="7.32" fill="#2c1d40" />
<line x1="365.90" y1="359.20" x2="367.90" y2="359.20" stroke="#444" stroke-width="0.6" />
<text x="369.10" y="361.20" font-size="5.6" font-family='"Liberation Sans", sans-serif' fill="#333" text-anchor="start" >0</text>
<line x1="365.90" y1="331.14" x2="367.90" y2="331.14" stroke="#444" stroke-width="0.6" />
<text x="369.10" y="333.14" font-size="5.6" font-family='"Liberation Sans", sans-serif' fill="#333" text-anchor="start" >20</text>
<line x1="365.90" y1="303.08" x2="367.90" y2="303.08" stroke="#444" stroke-width="0.6" />
<text x="369.10" y="305.08" font-size="5.6" font-family='"Liberation Sans", sans-serif' fill="#333" text-anchor="start" >40</text>
<line x1="365.90" y1="275.02" x2="367.90" y2="275.02" stroke="#444" stroke-width="0.6" />
<text x="369.10" y="277.02" font-size="5.6" font-family='"Liberation Sans", sans-serif' fill="#333" text-anchor="start" >60</text>
<line x1="365.90" y1="246.96" x2="367.90" y2="246.96" stroke="#444" stroke-width="0.6" />
<text x="369.10" y="248.96" font-size="5.6" font-family='"Liberation Sans", sans-serif' fill="#333" text-anchor="start" >80</text>
<line x1="365.90" y1="218.90" x2="367.90" y2="218.90" stroke="#444" stroke-width="0.6" />
<text x="369.10" y="220.90" font-size="5.6" font-family='"Liberation Sans", sans-serif' fill="#333" text-anchor="start" >100</text>
<text x="266.00" y="384.10" font-size="8.6" font-family='"Liberation Sans", sans-serif' font-weight="bold" fill="#111" text-anchor="start" textLength="28.90" lengthAdjust="spacingAndGlyphs" >Predict</text>
<g transform="translate(180.90,296.50) rotate(-90)">
<text x="0.00" y="0.00" font-size="9" font-family='"Liberation Sans", sans-serif' font-weight="bold" fill="#111" text-anchor="start" textLength="19.62" lengthAdjust="spacingAndGlyphs" >True</text>
</g>
<text x="389.00" y="17.10" font-size="10.2" font-family='"Liberation Sans", sans-serif' font-weight="bold" fill="#111" text-anchor="start" textLength="49.61" lengthAdjust="spacingAndGlyphs" >C-peptide</text>
<text x="396.10" y="31.40" font-size="7.2" font-family='"Liberation Sans", sans-serif' font-weight="bold" fill="#111" text-anchor="start" textLength="36.81" lengthAdjust="spacingAndGlyphs" >C-peptide</text>
<text x="395.60" y="40.30" font-size="7.2" font-family='"Liberation Sans", sans-serif' font-weight="bold" fill="#111" text-anchor="start" textLength="37.60" lengthAdjust="spacingAndGlyphs" >fragments</text>
<path d="M454.3,19.5 C451,19.5 449.9,20.8 449.9,24 L449.9,29.5 C449.9,31.8 448.5,33 446.3,33 C448.5,33 449.9,34.2 449.9,36.5 L449.9,42 C449.9,44.6 451,45.6 454.3,45.6" stroke="#111" stroke-width="1.15" fill="none"/>
<text x="464.37" y="16.8" font-size="9.9" font-family='"Liberation Serif", serif' fill="#111" stroke="#111" stroke-width="0.35" text-anchor="middle" transform="translate(464.37,0) scale(1.000,1) translate(-464.37,0)">E</text>
<text x="471.11" y="16.8" font-size="9.9" font-family='"Liberation Serif", serif' fill="#111" stroke="#111" stroke-width="0.35" text-anchor="middle" transform="translate(471.11,0) scale(0.884,1) translate(-471.11,0)">A</text>
<text x="477.85" y="16.8" font-size="9.9" font-family='"Liberation Serif", serif' fill="#111" stroke="#111" stroke-width="0.35" text-anchor="middle" transform="translate(477.85,0) scale(1.000,1) translate(-477.85,0)">E</text>
<text x="484.60" y="16.8" font-size="9.9" font-family='"Liberation Serif", serif' fill="#111" stroke="#111" stroke-width="0.35" text-anchor="middle" transform="translate(484.60,0) scale(0.884,1) translate(-484.60,0)">D</text>
<text x="491.34" y="16.8" font-size="9.9" font-family='"Liberation Serif", serif' fill="#111" stroke="#111" stroke-width="0.35" text-anchor="middle" transform="translate(491.34,0) scale(1.000,1) translate(-491.34,0)">L</text>
<text x="498.08" y="16.8" font-size="9.9" font-family='"Liberation Serif", serif' fill="#111" stroke="#111" stroke-width="0.35" text-anchor="middle" transform="translate(498.08,0) scale(1.000,1) translate(-498.08,0)">E</text>
<text x="504.82" y="16.8" font-size="9.9" font-family='"Liberation Serif", serif' fill="#111" stroke="#111" stroke-width="0.35" text-anchor="middle" transform="translate(504.82,0) scale(0.884,1) translate(-504.82,0)">V</text>
<text x="511.56" y="16.8" font-size="9.9" font-family='"Liberation Serif", serif' fill="#111" stroke="#111" stroke-width="0.35" text-anchor="middle" transform="translate(511.56,0) scale(0.884,1) translate(-511.56,0)">G</text>
<text x="518.31" y="16.8" font-size="9.9" font-family='"Liberation Serif", serif' fill="#111" stroke="#111" stroke-width="0.35" text-anchor="middle" transform="translate(518.31,0) scale(0.884,1) translate(-518.31,0)">Q</text>
<text x="525.05" y="16.8" font-size="9.9" font-family='"Liberation Serif", serif' fill="#111" stroke="#111" stroke-width="0.35" text-anchor="middle" transform="translate(525.05,0) scale(0.884,1) translate(-525.05,0)">V</text>
<text x="531.79" y="16.8" font-size="9.9" font-family='"Liberation Serif", serif' fill="#111" stroke="#111" stroke-width="0.35" text-anchor="middle" transform="translate(531.79,0) scale(1.000,1) translate(-531.79,0)">E</text>
<text x="538.53" y="16.8" font-size="9.9" font-family='"Liberation Serif", serif' fill="#111" stroke="#111" stroke-width="0.35" text-anchor="middle" transform="translate(538.53,0) scale(1.000,1) translate(-538.53,0)">L</text>
<text x="545.27" y="16.8" font-size="9.9" font-family='"Liberation Serif", serif' fill="#111" stroke="#111" stroke-width="0.35" text-anchor="middle" transform="translate(545.27,0) scale(0.884,1) translate(-545.27,0)">G</text>
<text x="552.02" y="16.8" font-size="9.9" font-family='"Liberation Serif", serif' fill="#111" stroke="#111" stroke-width="0.35" text-anchor="middle" transform="translate(552.02,0) scale(0.884,1) translate(-552.02,0)">G</text>
<text x="558.76" y="16.8" font-size="9.9" font-family='"Liberation Serif", serif' fill="#111" stroke="#111" stroke-width="0.35" text-anchor="middle" transform="translate(558.76,0) scale(0.884,1) translate(-558.76,0)">G</text>
<text x="565.50" y="16.8" font-size="9.9" font-family='"Liberation Serif", serif' fill="#111" stroke="#111" stroke-width="0.35" text-anchor="middle" transform="translate(565.50,0) scale(1.000,1) translate(-565.50,0)">P</text>
<text x="572.24" y="16.8" font-size="9.9" font-family='"Liberation Serif", serif' fill="#111" stroke="#111" stroke-width="0.35" text-anchor="middle" transform="translate(572.24,0) scale(0.884,1) translate(-572.24,0)">G</text>
<text x="578.98" y="16.8" font-size="9.9" font-family='"Liberation Serif", serif' fill="#111" stroke="#111" stroke-width="0.35" text-anchor="middle" transform="translate(578.98,0) scale(0.884,1) translate(-578.98,0)">A</text>
<text x="585.73" y="16.8" font-size="9.9" font-family='"Liberation Serif", serif' fill="#111" stroke="#111" stroke-width="0.35" text-anchor="middle" transform="translate(585.73,0) scale(0.884,1) translate(-585.73,0)">G</text>
<text x="592.47" y="16.8" font-size="9.9" font-family='"Liberation Serif", serif' fill="#111" stroke="#111" stroke-width="0.35" text-anchor="middle" transform="translate(592.47,0) scale(1.000,1) translate(-592.47,0)">S</text>
<text x="599.21" y="16.8" font-size="9.9" font-family='"Liberation Serif", serif' fill="#111" stroke="#111" stroke-width="0.35" text-anchor="middle" transform="translate(599.21,0) scale(1.000,1) translate(-599.21,0)">L</text>
<text x="605.95" y="16.8" font-size="9.9" font-family='"Liberation Serif", serif' fill="#111" stroke="#111" stroke-width="0.35" text-anchor="middle" transform="translate(605.95,0) scale(0.884,1) translate(-605.95,0)">Q</text>
<text x="612.69" y="16.8" font-size="9.9" font-family='"Liberation Serif", serif' fill="#111" stroke="#111" stroke-width="0.35" text-anchor="middle" transform="translate(612.69,0) scale(1.000,1) translate(-612.69,0)">P</text>
<text x="619.44" y="16.8" font-size="9.9" font-family='"Liberation Serif", serif' fill="#111" stroke="#111" stroke-width="0.35" text-anchor="middle" transform="translate(619.44,0) scale(1.000,1) translate(-619.44,0)">L</text>
<text x="626.18" y="16.8" font-size="9.9" font-family='"Liberation Serif", serif' fill="#111" stroke="#111" stroke-width="0.35" text-anchor="middle" transform="translate(626.18,0) scale(0.884,1) translate(-626.18,0)">A</text>
<text x="632.92" y="16.8" font-size="9.9" font-family='"Liberation Serif", serif' fill="#111" stroke="#111" stroke-width="0.35" text-anchor="middle" transform="translate(632.92,0) scale(1.000,1) translate(-632.92,0)">L</text>
<text x="639.66" y="16.8" font-size="9.9" font-family='"Liberation Serif", serif' fill="#111" stroke="#111" stroke-width="0.35" text-anchor="middle" transform="translate(639.66,0) scale(1.000,1) translate(-639.66,0)">E</text>
<text x="646.40" y="16.8" font-size="9.9" font-family='"Liberation Serif", serif' fill="#111" stroke="#111" stroke-width="0.35" text-anchor="middle" transform="translate(646.40,0) scale(0.884,1) translate(-646.40,0)">G</text>
<text x="653.15" y="16.8" font-size="9.9" font-family='"Liberation Serif", serif' fill="#111" stroke="#111" stroke-width="0.35" text-anchor="middle" transform="translate(653.15,0) scale(1.000,1) translate(-653.15,0)">S</text>
<text x="659.89" y="16.8" font-size="9.9" font-family='"Liberation Serif", serif' fill="#111" stroke="#111" stroke-width="0.35" text-anchor="middle" transform="translate(659.89,0) scale(1.000,1) translate(-659.89,0)">L</text>
<text x="666.63" y="16.8" font-size="9.9" font-family='"Liberation Serif", serif' fill="#111" stroke="#111" stroke-width="0.35" text-anchor="middle" transform="translate(666.63,0) scale(0.884,1) translate(-666.63,0)">Q</text>
<line x1="462.30" y1="19.95" x2="528.80" y2="19.95" stroke="#c41a10" stroke-width="2.1" stroke-linecap="round"/>
<line x1="487.60" y1="24.70" x2="555.30" y2="24.70" stroke="#efb62c" stroke-width="2.1" stroke-linecap="round"/>
<line x1="515.30" y1="29.50" x2="583.80" y2="29.50" stroke="#92dc4a" stroke-width="2.1" stroke-linecap="round"/>
<line x1="543.90" y1="34.20" x2="611.00" y2="34.20" stroke="#b04a80" stroke-width="2.1" stroke-linecap="round"/>
<line x1="570.00" y1="39.20" x2="637.20" y2="39.20" stroke="#4db8f0" stroke-width="2.1" stroke-linecap="round"/>
<line x1="597.20" y1="43.90" x2="671.00" y2="43.90" stroke="#6a2cb0" stroke-width="2.1" stroke-linecap="round"/>
<text x="461.30" y="28.70" font-size="7.7" font-family='"Liberation Sans", sans-serif' font-weight="bold" fill="#111" text-anchor="start" textLength="17.49" lengthAdjust="spacingAndGlyphs" >CP-1</text>
<text x="489.30" y="34.70" font-size="7.7" font-family='"Liberation Sans", sans-serif' font-weight="bold" fill="#111" text-anchor="start" textLength="17.79" lengthAdjust="spacingAndGlyphs" >CP-2</text>
<text x="516.80" y="39.30" font-size="7.7" font-family='"Liberation Sans", sans-serif' font-weight="bold" fill="#111" text-anchor="start" textLength="17.89" lengthAdjust="spacingAndGlyphs" >CP-3</text>
<text x="543.20" y="44.50" font-size="7.7" font-family='"Liberation Sans", sans-serif' font-weight="bold" fill="#111" text-anchor="start" textLength="17.79" lengthAdjust="spacingAndGlyphs" >CP-4</text>
<text x="621.60" y="36.00" font-size="7.7" font-family='"Liberation Sans", sans-serif' font-weight="bold" fill="#111" text-anchor="start" textLength="17.79" lengthAdjust="spacingAndGlyphs" >CP-5</text>
<text x="653.50" y="41.00" font-size="7.7" font-family='"Liberation Sans", sans-serif' font-weight="bold" fill="#111" text-anchor="start" textLength="17.99" lengthAdjust="spacingAndGlyphs" >CP-6</text>
<line x1="402.30" y1="161.00" x2="674.70" y2="161.00" stroke="#333" stroke-width="0.7" stroke-dasharray="1.5 1.3"/>
<rect x="405.90" y="161.00" width="5.80" height="15.50" fill="#d0241b" />
<rect x="412.40" y="161.00" width="5.80" height="15.50" fill="#f0c238" />
<rect x="418.90" y="161.00" width="5.80" height="15.50" fill="#92e04e" />
<rect x="425.40" y="161.00" width="5.80" height="15.50" fill="#bb4f88" />
<rect x="431.90" y="161.00" width="5.80" height="15.50" fill="#57c2f2" />
<rect x="438.40" y="161.00" width="5.80" height="15.50" fill="#6f2fb8" />
<rect x="451.20" y="176.03" width="5.80" height="0.46" fill="#d0241b" />
<rect x="457.70" y="174.33" width="5.80" height="2.17" fill="#f0c238" />
<rect x="464.20" y="176.03" width="5.80" height="0.46" fill="#92e04e" />
<rect x="470.70" y="176.03" width="5.80" height="0.46" fill="#bb4f88" />
<rect x="477.20" y="173.40" width="5.80" height="3.10" fill="#57c2f2" />
<rect x="483.70" y="95.59" width="5.80" height="80.91" fill="#6f2fb8" />
<rect x="496.50" y="175.72" width="5.80" height="0.78" fill="#d0241b" />
<rect x="503.00" y="172.00" width="5.80" height="4.50" fill="#f0c238" />
<rect x="509.50" y="176.03" width="5.80" height="0.46" fill="#92e04e" />
<rect x="516.00" y="176.03" width="5.80" height="0.46" fill="#bb4f88" />
<rect x="522.50" y="171.54" width="5.80" height="4.96" fill="#57c2f2" />
<rect x="529.00" y="101.17" width="5.80" height="75.33" fill="#6f2fb8" />
<rect x="541.80" y="176.03" width="5.80" height="0.46" fill="#d0241b" />
<rect x="548.30" y="175.72" width="5.80" height="0.78" fill="#f0c238" />
<rect x="554.80" y="175.26" width="5.80" height="1.24" fill="#92e04e" />
<rect x="561.30" y="174.95" width="5.80" height="1.55" fill="#bb4f88" />
<rect x="567.80" y="71.10" width="5.80" height="105.40" fill="#57c2f2" />
<rect x="574.30" y="170.46" width="5.80" height="6.04" fill="#6f2fb8" />
<rect x="587.10" y="166.27" width="5.80" height="10.23" fill="#d0241b" />
<rect x="593.60" y="157.90" width="5.80" height="18.60" fill="#f0c238" />
<rect x="600.10" y="100.70" width="5.80" height="75.80" fill="#92e04e" />
<rect x="606.60" y="176.03" width="5.80" height="0.46" fill="#bb4f88" />
<rect x="613.10" y="175.26" width="5.80" height="1.24" fill="#57c2f2" />
<rect x="619.60" y="172.47" width="5.80" height="4.03" fill="#6f2fb8" />
<rect x="632.40" y="175.88" width="5.80" height="0.62" fill="#d0241b" />
<rect x="638.90" y="174.95" width="5.80" height="1.55" fill="#f0c238" />
<rect x="645.40" y="175.41" width="5.80" height="1.09" fill="#92e04e" />
<rect x="651.90" y="175.72" width="5.80" height="0.78" fill="#bb4f88" />
<rect x="658.40" y="111.55" width="5.80" height="64.95" fill="#57c2f2" />
<rect x="664.90" y="143.33" width="5.80" height="33.17" fill="#6f2fb8" />
<line x1="408.80" y1="161.00" x2="408.80" y2="154.95" stroke="#e2302a" stroke-width="0.85" />
<line x1="407.50" y1="154.95" x2="410.10" y2="154.95" stroke="#e2302a" stroke-width="0.85" />
<circle cx="408.80" cy="154.95" r="0.75" fill="#666" stroke="#222" stroke-width="0.35"/>
<circle cx="407.20" cy="157.98" r="0.75" fill="#666" stroke="#222" stroke-width="0.35"/>
<circle cx="410.40" cy="160.40" r="0.75" fill="#666" stroke="#222" stroke-width="0.35"/>
<circle cx="408.80" cy="162.81" r="0.75" fill="#666" stroke="#222" stroke-width="0.35"/>
<circle cx="407.50" cy="164.63" r="0.75" fill="#666" stroke="#222" stroke-width="0.35"/>
<circle cx="410.10" cy="165.23" r="0.75" fill="#666" stroke="#222" stroke-width="0.35"/>
<line x1="415.30" y1="161.00" x2="415.30" y2="154.65" stroke="#e2302a" stroke-width="0.85" />
<line x1="414.00" y1="154.65" x2="416.60" y2="154.65" stroke="#e2302a" stroke-width="0.85" />
<circle cx="415.30" cy="154.65" r="0.75" fill="#666" stroke="#222" stroke-width="0.35"/>
<circle cx="413.70" cy="157.82" r="0.75" fill="#666" stroke="#222" stroke-width="0.35"/>
<circle cx="416.90" cy="160.36" r="0.75" fill="#666" stroke="#222" stroke-width="0.35"/>
<circle cx="415.30" cy="162.91" r="0.75" fill="#666" stroke="#222" stroke-width="0.35"/>
<circle cx="414.00" cy="164.81" r="0.75" fill="#666" stroke="#222" stroke-width="0.35"/>
<circle cx="416.60" cy="165.45" r="0.75" fill="#666" stroke="#222" stroke-width="0.35"/>
<line x1="421.80" y1="161.00" x2="421.80" y2="147.05" stroke="#e2302a" stroke-width="0.85" />
<line x1="420.50" y1="147.05" x2="423.10" y2="147.05" stroke="#e2302a" stroke-width="0.85" />
<circle cx="421.80" cy="135.27" r="0.75" fill="#666" stroke="#222" stroke-width="0.35"/>
<circle cx="420.20" cy="154.03" r="0.75" fill="#666" stroke="#222" stroke-width="0.35"/>
<circle cx="423.40" cy="159.60" r="0.75" fill="#666" stroke="#222" stroke-width="0.35"/>
<circle cx="421.80" cy="165.19" r="0.75" fill="#666" stroke="#222" stroke-width="0.35"/>
<circle cx="420.50" cy="169.37" r="0.75" fill="#666" stroke="#222" stroke-width="0.35"/>
<circle cx="423.10" cy="170.76" r="0.75" fill="#666" stroke="#222" stroke-width="0.35"/>
<line x1="428.30" y1="161.00" x2="428.30" y2="156.97" stroke="#e2302a" stroke-width="0.85" />
<line x1="427.00" y1="156.97" x2="429.60" y2="156.97" stroke="#e2302a" stroke-width="0.85" />
<circle cx="428.30" cy="156.97" r="0.75" fill="#666" stroke="#222" stroke-width="0.35"/>
<circle cx="426.70" cy="158.99" r="0.75" fill="#666" stroke="#222" stroke-width="0.35"/>
<circle cx="429.90" cy="160.60" r="0.75" fill="#666" stroke="#222" stroke-width="0.35"/>
<circle cx="428.30" cy="162.21" r="0.75" fill="#666" stroke="#222" stroke-width="0.35"/>
<circle cx="427.00" cy="163.42" r="0.75" fill="#666" stroke="#222" stroke-width="0.35"/>
<circle cx="429.60" cy="163.82" r="0.75" fill="#666" stroke="#222" stroke-width="0.35"/>
<line x1="434.80" y1="161.00" x2="434.80" y2="157.12" stroke="#e2302a" stroke-width="0.85" />
<line x1="433.50" y1="157.12" x2="436.10" y2="157.12" stroke="#e2302a" stroke-width="0.85" />
<circle cx="434.80" cy="157.12" r="0.75" fill="#666" stroke="#222" stroke-width="0.35"/>
<circle cx="433.20" cy="159.06" r="0.75" fill="#666" stroke="#222" stroke-width="0.35"/>
<circle cx="436.40" cy="160.61" r="0.75" fill="#666" stroke="#222" stroke-width="0.35"/>
<circle cx="434.80" cy="162.16" r="0.75" fill="#666" stroke="#222" stroke-width="0.35"/>
<circle cx="433.50" cy="163.32" r="0.75" fill="#666" stroke="#222" stroke-width="0.35"/>
<circle cx="436.10" cy="163.71" r="0.75" fill="#666" stroke="#222" stroke-width="0.35"/>
<line x1="441.30" y1="161.00" x2="441.30" y2="159.14" stroke="#e2302a" stroke-width="0.85" />
<line x1="440.00" y1="159.14" x2="442.60" y2="159.14" stroke="#e2302a" stroke-width="0.85" />
<circle cx="441.30" cy="159.14" r="0.75" fill="#666" stroke="#222" stroke-width="0.35"/>
<circle cx="439.70" cy="160.07" r="0.75" fill="#666" stroke="#222" stroke-width="0.35"/>
<circle cx="442.90" cy="160.81" r="0.75" fill="#666" stroke="#222" stroke-width="0.35"/>
<circle cx="441.30" cy="161.56" r="0.75" fill="#666" stroke="#222" stroke-width="0.35"/>
<circle cx="440.00" cy="162.12" r="0.75" fill="#666" stroke="#222" stroke-width="0.35"/>
<circle cx="442.60" cy="162.30" r="0.75" fill="#666" stroke="#222" stroke-width="0.35"/>
<line x1="454.10" y1="176.03" x2="454.10" y2="175.57" stroke="#e2302a" stroke-width="0.85" />
<line x1="452.80" y1="175.57" x2="455.40" y2="175.57" stroke="#e2302a" stroke-width="0.85" />
<circle cx="454.10" cy="175.57" r="0.75" fill="#666" stroke="#222" stroke-width="0.35"/>
<circle cx="452.50" cy="175.80" r="0.75" fill="#666" stroke="#222" stroke-width="0.35"/>
<circle cx="455.70" cy="175.99" r="0.75" fill="#666" stroke="#222" stroke-width="0.35"/>
<circle cx="454.10" cy="176.17" r="0.75" fill="#666" stroke="#222" stroke-width="0.35"/>
<circle cx="452.80" cy="176.19" r="0.75" fill="#666" stroke="#222" stroke-width="0.35"/>
<circle cx="455.40" cy="176.19" r="0.75" fill="#666" stroke="#222" stroke-width="0.35"/>
<line x1="460.60" y1="174.33" x2="460.60" y2="172.78" stroke="#e2302a" stroke-width="0.85" />
<line x1="459.30" y1="172.78" x2="461.90" y2="172.78" stroke="#e2302a" stroke-width="0.85" />
<circle cx="460.60" cy="172.78" r="0.75" fill="#666" stroke="#222" stroke-width="0.35"/>
<circle cx="459.00" cy="173.56" r="0.75" fill="#666" stroke="#222" stroke-width="0.35"/>
<circle cx="462.20" cy="174.18" r="0.75" fill="#666" stroke="#222" stroke-width="0.35"/>
<circle cx="460.60" cy="174.79" r="0.75" fill="#666" stroke="#222" stroke-width="0.35"/>
<circle cx="459.30" cy="175.26" r="0.75" fill="#666" stroke="#222" stroke-width="0.35"/>
<circle cx="461.90" cy="175.41" r="0.75" fill="#666" stroke="#222" stroke-width="0.35"/>
<line x1="467.10" y1="176.03" x2="467.10" y2="175.57" stroke="#e2302a" stroke-width="0.85" />
<line x1="465.80" y1="175.57" x2="468.40" y2="175.57" stroke="#e2302a" stroke-width="0.85" />
<circle cx="467.10" cy="175.57" r="0.75" fill="#666" stroke="#222" stroke-width="0.35"/>
<circle cx="465.50" cy="175.80" r="0.75" fill="#666" stroke="#222" stroke-width="0.35"/>
<circle cx="468.70" cy="175.99" r="0.75" fill="#666" stroke="#222" stroke-width="0.35"/>
<circle cx="467.10" cy="176.17" r="0.75" fill="#666" stroke="#222" stroke-width="0.35"/>
<circle cx="465.80" cy="176.19" r="0.75" fill="#666" stroke="#222" stroke-width="0.35"/>
<circle cx="468.40" cy="176.19" r="0.75" fill="#666" stroke="#222" stroke-width="0.35"/>
<line x1="473.60" y1="176.03" x2="473.60" y2="175.57" stroke="#e2302a" stroke-width="0.85" />
<line x1="472.30" y1="175.57" x2="474.90" y2="175.57" stroke="#e2302a" stroke-width="0.85" />
<circle cx="473.60" cy="175.57" r="0.75" fill="#666" stroke="#222" stroke-width="0.35"/>
<circle cx="472.00" cy="175.80" r="0.75" fill="#666" stroke="#222" stroke-width="0.35"/>
<circle cx="475.20" cy="175.99" r="0.75" fill="#666" stroke="#222" stroke-width="0.35"/>
<circle cx="473.60" cy="176.17" r="0.75" fill="#666" stroke="#222" stroke-width="0.35"/>
<circle cx="472.30" cy="176.19" r="0.75" fill="#666" stroke="#222" stroke-width="0.35"/>
<circle cx="474.90" cy="176.19" r="0.75" fill="#666" stroke="#222" stroke-width="0.35"/>
<line x1="480.10" y1="173.40" x2="480.10" y2="171.85" stroke="#e2302a" stroke-width="0.85" />
<line x1="478.80" y1="171.85" x2="481.40" y2="171.85" stroke="#e2302a" stroke-width="0.85" />
<circle cx="480.10" cy="171.85" r="0.75" fill="#666" stroke="#222" stroke-width="0.35"/>
<circle cx="478.50" cy="172.62" r="0.75" fill="#666" stroke="#222" stroke-width="0.35"/>
<circle cx="481.70" cy="173.25" r="0.75" fill="#666" stroke="#222" stroke-width="0.35"/>
<circle cx="480.10" cy="173.87" r="0.75" fill="#666" stroke="#222" stroke-width="0.35"/>
<circle cx="478.80" cy="174.33" r="0.75" fill="#666" stroke="#222" stroke-width="0.35"/>
<circle cx="481.40" cy="174.49" r="0.75" fill="#666" stroke="#222" stroke-width="0.35"/>
<line x1="486.60" y1="95.59" x2="486.60" y2="94.04" stroke="#e2302a" stroke-width="0.85" />
<line x1="485.30" y1="94.04" x2="487.90" y2="94.04" stroke="#e2302a" stroke-width="0.85" />
<circle cx="486.60" cy="94.04" r="0.75" fill="#666" stroke="#222" stroke-width="0.35"/>
<circle cx="485.00" cy="94.82" r="0.75" fill="#666" stroke="#222" stroke-width="0.35"/>
<circle cx="488.20" cy="95.44" r="0.75" fill="#666" stroke="#222" stroke-width="0.35"/>
<circle cx="486.60" cy="96.06" r="0.75" fill="#666" stroke="#222" stroke-width="0.35"/>
<circle cx="485.30" cy="96.52" r="0.75" fill="#666" stroke="#222" stroke-width="0.35"/>
<circle cx="487.90" cy="96.68" r="0.75" fill="#666" stroke="#222" stroke-width="0.35"/>
<line x1="499.40" y1="175.72" x2="499.40" y2="175.26" stroke="#e2302a" stroke-width="0.85" />
<line x1="498.10" y1="175.26" x2="500.70" y2="175.26" stroke="#e2302a" stroke-width="0.85" />
<circle cx="499.40" cy="175.26" r="0.75" fill="#666" stroke="#222" stroke-width="0.35"/>
<circle cx="497.80" cy="175.49" r="0.75" fill="#666" stroke="#222" stroke-width="0.35"/>
<circle cx="501.00" cy="175.68" r="0.75" fill="#666" stroke="#222" stroke-width="0.35"/>
<circle cx="499.40" cy="175.86" r="0.75" fill="#666" stroke="#222" stroke-width="0.35"/>
<circle cx="498.10" cy="176.00" r="0.75" fill="#666" stroke="#222" stroke-width="0.35"/>
<circle cx="500.70" cy="176.05" r="0.75" fill="#666" stroke="#222" stroke-width="0.35"/>
<line x1="505.90" y1="172.00" x2="505.90" y2="168.13" stroke="#e2302a" stroke-width="0.85" />
<line x1="504.60" y1="168.13" x2="507.20" y2="168.13" stroke="#e2302a" stroke-width="0.85" />
<circle cx="505.90" cy="168.13" r="0.75" fill="#666" stroke="#222" stroke-width="0.35"/>
<circle cx="504.30" cy="170.07" r="0.75" fill="#666" stroke="#222" stroke-width="0.35"/>
<circle cx="507.50" cy="171.62" r="0.75" fill="#666" stroke="#222" stroke-width="0.35"/>
<circle cx="505.90" cy="173.17" r="0.75" fill="#666" stroke="#222" stroke-width="0.35"/>
<circle cx="504.60" cy="174.33" r="0.75" fill="#666" stroke="#222" stroke-width="0.35"/>
<circle cx="507.20" cy="174.72" r="0.75" fill="#666" stroke="#222" stroke-width="0.35"/>
<line x1="512.40" y1="176.03" x2="512.40" y2="175.72" stroke="#e2302a" stroke-width="0.85" />
<line x1="511.10" y1="175.72" x2="513.70" y2="175.72" stroke="#e2302a" stroke-width="0.85" />
<circle cx="512.40" cy="175.72" r="0.75" fill="#666" stroke="#222" stroke-width="0.35"/>
<circle cx="510.80" cy="175.88" r="0.75" fill="#666" stroke="#222" stroke-width="0.35"/>
<circle cx="514.00" cy="176.00" r="0.75" fill="#666" stroke="#222" stroke-width="0.35"/>
<circle cx="512.40" cy="176.13" r="0.75" fill="#666" stroke="#222" stroke-width="0.35"/>
<circle cx="511.10" cy="176.19" r="0.75" fill="#666" stroke="#222" stroke-width="0.35"/>
<circle cx="513.70" cy="176.19" r="0.75" fill="#666" stroke="#222" stroke-width="0.35"/>
<line x1="518.90" y1="176.03" x2="518.90" y2="175.72" stroke="#e2302a" stroke-width="0.85" />
<line x1="517.60" y1="175.72" x2="520.20" y2="175.72" stroke="#e2302a" stroke-width="0.85" />
<circle cx="518.90" cy="175.72" r="0.75" fill="#666" stroke="#222" stroke-width="0.35"/>
<circle cx="517.30" cy="175.88" r="0.75" fill="#666" stroke="#222" stroke-width="0.35"/>
<circle cx="520.50" cy="176.00" r="0.75" fill="#666" stroke="#222" stroke-width="0.35"/>
<circle cx="518.90" cy="176.13" r="0.75" fill="#666" stroke="#222" stroke-width="0.35"/>
<circle cx="517.60" cy="176.19" r="0.75" fill="#666" stroke="#222" stroke-width="0.35"/>
<circle cx="520.20" cy="176.19" r="0.75" fill="#666" stroke="#222" stroke-width="0.35"/>
<line x1="525.40" y1="171.54" x2="525.40" y2="166.12" stroke="#e2302a" stroke-width="0.85" />
<line x1="524.10" y1="166.12" x2="526.70" y2="166.12" stroke="#e2302a" stroke-width="0.85" />
<circle cx="525.40" cy="166.12" r="0.75" fill="#666" stroke="#222" stroke-width="0.35"/>
<circle cx="523.80" cy="168.83" r="0.75" fill="#666" stroke="#222" stroke-width="0.35"/>
<circle cx="527.00" cy="171.00" r="0.75" fill="#666" stroke="#222" stroke-width="0.35"/>
<circle cx="525.40" cy="173.17" r="0.75" fill="#666" stroke="#222" stroke-width="0.35"/>
<circle cx="524.10" cy="174.79" r="0.75" fill="#666" stroke="#222" stroke-width="0.35"/>
<circle cx="526.70" cy="175.34" r="0.75" fill="#666" stroke="#222" stroke-width="0.35"/>
<line x1="531.90" y1="101.17" x2="531.90" y2="96.52" stroke="#e2302a" stroke-width="0.85" />
<line x1="530.60" y1="96.52" x2="533.20" y2="96.52" stroke="#e2302a" stroke-width="0.85" />
<circle cx="531.90" cy="96.52" r="0.75" fill="#666" stroke="#222" stroke-width="0.35"/>
<circle cx="530.30" cy="98.84" r="0.75" fill="#666" stroke="#222" stroke-width="0.35"/>
<circle cx="533.50" cy="100.70" r="0.75" fill="#666" stroke="#222" stroke-width="0.35"/>
<circle cx="531.90" cy="102.56" r="0.75" fill="#666" stroke="#222" stroke-width="0.35"/>
<circle cx="530.60" cy="103.96" r="0.75" fill="#666" stroke="#222" stroke-width="0.35"/>
<circle cx="533.20" cy="104.42" r="0.75" fill="#666" stroke="#222" stroke-width="0.35"/>
<line x1="544.70" y1="176.03" x2="544.70" y2="175.72" stroke="#e2302a" stroke-width="0.85" />
<line x1="543.40" y1="175.72" x2="546.00" y2="175.72" stroke="#e2302a" stroke-width="0.85" />
<circle cx="544.70" cy="175.72" r="0.75" fill="#666" stroke="#222" stroke-width="0.35"/>
<circle cx="543.10" cy="175.88" r="0.75" fill="#666" stroke="#222" stroke-width="0.35"/>
<circle cx="546.30" cy="176.00" r="0.75" fill="#666" stroke="#222" stroke-width="0.35"/>
<circle cx="544.70" cy="176.13" r="0.75" fill="#666" stroke="#222" stroke-width="0.35"/>
<circle cx="543.40" cy="176.19" r="0.75" fill="#666" stroke="#222" stroke-width="0.35"/>
<circle cx="546.00" cy="176.19" r="0.75" fill="#666" stroke="#222" stroke-width="0.35"/>
<line x1="551.20" y1="175.72" x2="551.20" y2="175.26" stroke="#e2302a" stroke-width="0.85" />
<line x1="549.90" y1="175.26" x2="552.50" y2="175.26" stroke="#e2302a" stroke-width="0.85" />
<circle cx="551.20" cy="175.26" r="0.75" fill="#666" stroke="#222" stroke-width="0.35"/>
<circle cx="549.60" cy="175.49" r="0.75" fill="#666" stroke="#222" stroke-width="0.35"/>
<circle cx="552.80" cy="175.68" r="0.75" fill="#666" stroke="#222" stroke-width="0.35"/>
<circle cx="551.20" cy="175.86" r="0.75" fill="#666" stroke="#222" stroke-width="0.35"/>
<circle cx="549.90" cy="176.00" r="0.75" fill="#666" stroke="#222" stroke-width="0.35"/>
<circle cx="552.50" cy="176.05" r="0.75" fill="#666" stroke="#222" stroke-width="0.35"/>
<line x1="557.70" y1="175.26" x2="557.70" y2="174.79" stroke="#e2302a" stroke-width="0.85" />
<line x1="556.40" y1="174.79" x2="559.00" y2="174.79" stroke="#e2302a" stroke-width="0.85" />
<circle cx="557.70" cy="174.79" r="0.75" fill="#666" stroke="#222" stroke-width="0.35"/>
<circle cx="556.10" cy="175.03" r="0.75" fill="#666" stroke="#222" stroke-width="0.35"/>
<circle cx="559.30" cy="175.21" r="0.75" fill="#666" stroke="#222" stroke-width="0.35"/>
<circle cx="557.70" cy="175.40" r="0.75" fill="#666" stroke="#222" stroke-width="0.35"/>
<circle cx="556.40" cy="175.54" r="0.75" fill="#666" stroke="#222" stroke-width="0.35"/>
<circle cx="559.00" cy="175.59" r="0.75" fill="#666" stroke="#222" stroke-width="0.35"/>
<line x1="564.20" y1="174.95" x2="564.20" y2="174.18" stroke="#e2302a" stroke-width="0.85" />
<line x1="562.90" y1="174.18" x2="565.50" y2="174.18" stroke="#e2302a" stroke-width="0.85" />
<circle cx="564.20" cy="174.18" r="0.75" fill="#666" stroke="#222" stroke-width="0.35"/>
<circle cx="562.60" cy="174.56" r="0.75" fill="#666" stroke="#222" stroke-width="0.35"/>
<circle cx="565.80" cy="174.87" r="0.75" fill="#666" stroke="#222" stroke-width="0.35"/>
<circle cx="564.20" cy="175.18" r="0.75" fill="#666" stroke="#222" stroke-width="0.35"/>
<circle cx="562.90" cy="175.41" r="0.75" fill="#666" stroke="#222" stroke-width="0.35"/>
<circle cx="565.50" cy="175.49" r="0.75" fill="#666" stroke="#222" stroke-width="0.35"/>
<line x1="570.70" y1="71.10" x2="570.70" y2="68.00" stroke="#e2302a" stroke-width="0.85" />
<line x1="569.40" y1="68.00" x2="572.00" y2="68.00" stroke="#e2302a" stroke-width="0.85" />
<circle cx="570.70" cy="68.00" r="0.75" fill="#666" stroke="#222" stroke-width="0.35"/>
<circle cx="569.10" cy="69.55" r="0.75" fill="#666" stroke="#222" stroke-width="0.35"/>
<circle cx="572.30" cy="70.79" r="0.75" fill="#666" stroke="#222" stroke-width="0.35"/>
<circle cx="570.70" cy="72.03" r="0.75" fill="#666" stroke="#222" stroke-width="0.35"/>
<circle cx="569.40" cy="72.96" r="0.75" fill="#666" stroke="#222" stroke-width="0.35"/>
<circle cx="572.00" cy="73.27" r="0.75" fill="#666" stroke="#222" stroke-width="0.35"/>
<line x1="577.20" y1="170.46" x2="577.20" y2="169.22" stroke="#e2302a" stroke-width="0.85" />
<line x1="575.90" y1="169.22" x2="578.50" y2="169.22" stroke="#e2302a" stroke-width="0.85" />
<circle cx="577.20" cy="169.22" r="0.75" fill="#666" stroke="#222" stroke-width="0.35"/>
<circle cx="575.60" cy="169.84" r="0.75" fill="#666" stroke="#222" stroke-width="0.35"/>
<circle cx="578.80" cy="170.33" r="0.75" fill="#666" stroke="#222" stroke-width="0.35"/>
<circle cx="577.20" cy="170.83" r="0.75" fill="#666" stroke="#222" stroke-width="0.35"/>
<circle cx="575.90" cy="171.20" r="0.75" fill="#666" stroke="#222" stroke-width="0.35"/>
<circle cx="578.50" cy="171.32" r="0.75" fill="#666" stroke="#222" stroke-width="0.35"/>
<line x1="590.00" y1="166.27" x2="590.00" y2="159.14" stroke="#e2302a" stroke-width="0.85" />
<line x1="588.70" y1="159.14" x2="591.30" y2="159.14" stroke="#e2302a" stroke-width="0.85" />
<circle cx="590.00" cy="159.14" r="0.75" fill="#666" stroke="#222" stroke-width="0.35"/>
<circle cx="588.40" cy="162.71" r="0.75" fill="#666" stroke="#222" stroke-width="0.35"/>
<circle cx="591.60" cy="165.56" r="0.75" fill="#666" stroke="#222" stroke-width="0.35"/>
<circle cx="590.00" cy="168.41" r="0.75" fill="#666" stroke="#222" stroke-width="0.35"/>
<circle cx="588.70" cy="170.55" r="0.75" fill="#666" stroke="#222" stroke-width="0.35"/>
<circle cx="591.30" cy="171.26" r="0.75" fill="#666" stroke="#222" stroke-width="0.35"/>
<line x1="596.50" y1="157.90" x2="596.50" y2="147.05" stroke="#e2302a" stroke-width="0.85" />
<line x1="595.20" y1="147.05" x2="597.80" y2="147.05" stroke="#e2302a" stroke-width="0.85" />
<circle cx="596.50" cy="147.05" r="0.75" fill="#666" stroke="#222" stroke-width="0.35"/>
<circle cx="594.90" cy="152.47" r="0.75" fill="#666" stroke="#222" stroke-width="0.35"/>
<circle cx="598.10" cy="156.81" r="0.75" fill="#666" stroke="#222" stroke-width="0.35"/>
<circle cx="596.50" cy="161.16" r="0.75" fill="#666" stroke="#222" stroke-width="0.35"/>
<circle cx="595.20" cy="164.41" r="0.75" fill="#666" stroke="#222" stroke-width="0.35"/>
<circle cx="597.80" cy="165.50" r="0.75" fill="#666" stroke="#222" stroke-width="0.35"/>
<line x1="603.00" y1="100.70" x2="603.00" y2="79.01" stroke="#e2302a" stroke-width="0.85" />
<line x1="601.70" y1="79.01" x2="604.30" y2="79.01" stroke="#e2302a" stroke-width="0.85" />
<circle cx="603.00" cy="79.01" r="0.75" fill="#666" stroke="#222" stroke-width="0.35"/>
<circle cx="601.40" cy="89.86" r="0.75" fill="#666" stroke="#222" stroke-width="0.35"/>
<circle cx="604.60" cy="98.54" r="0.75" fill="#666" stroke="#222" stroke-width="0.35"/>
<circle cx="603.00" cy="107.22" r="0.75" fill="#666" stroke="#222" stroke-width="0.35"/>
<circle cx="601.70" cy="113.72" r="0.75" fill="#666" stroke="#222" stroke-width="0.35"/>
<circle cx="604.30" cy="115.90" r="0.75" fill="#666" stroke="#222" stroke-width="0.35"/>
<line x1="609.50" y1="176.03" x2="609.50" y2="175.57" stroke="#e2302a" stroke-width="0.85" />
<line x1="608.20" y1="175.57" x2="610.80" y2="175.57" stroke="#e2302a" stroke-width="0.85" />
<circle cx="609.50" cy="175.57" r="0.75" fill="#666" stroke="#222" stroke-width="0.35"/>
<circle cx="607.90" cy="175.80" r="0.75" fill="#666" stroke="#222" stroke-width="0.35"/>
<circle cx="611.10" cy="175.99" r="0.75" fill="#666" stroke="#222" stroke-width="0.35"/>
<circle cx="609.50" cy="176.17" r="0.75" fill="#666" stroke="#222" stroke-width="0.35"/>
<circle cx="608.20" cy="176.19" r="0.75" fill="#666" stroke="#222" stroke-width="0.35"/>
<circle cx="610.80" cy="176.19" r="0.75" fill="#666" stroke="#222" stroke-width="0.35"/>
<line x1="616.00" y1="175.26" x2="616.00" y2="174.49" stroke="#e2302a" stroke-width="0.85" />
<line x1="614.70" y1="174.49" x2="617.30" y2="174.49" stroke="#e2302a" stroke-width="0.85" />
<circle cx="616.00" cy="174.49" r="0.75" fill="#666" stroke="#222" stroke-width="0.35"/>
<circle cx="614.40" cy="174.87" r="0.75" fill="#666" stroke="#222" stroke-width="0.35"/>
<circle cx="617.60" cy="175.18" r="0.75" fill="#666" stroke="#222" stroke-width="0.35"/>
<circle cx="616.00" cy="175.49" r="0.75" fill="#666" stroke="#222" stroke-width="0.35"/>
<circle cx="614.70" cy="175.72" r="0.75" fill="#666" stroke="#222" stroke-width="0.35"/>
<circle cx="617.30" cy="175.80" r="0.75" fill="#666" stroke="#222" stroke-width="0.35"/>
<line x1="622.50" y1="172.47" x2="622.50" y2="170.61" stroke="#e2302a" stroke-width="0.85" />
<line x1="621.20" y1="170.61" x2="623.80" y2="170.61" stroke="#e2302a" stroke-width="0.85" />
<circle cx="622.50" cy="170.61" r="0.75" fill="#666" stroke="#222" stroke-width="0.35"/>
<circle cx="620.90" cy="171.54" r="0.75" fill="#666" stroke="#222" stroke-width="0.35"/>
<circle cx="624.10" cy="172.28" r="0.75" fill="#666" stroke="#222" stroke-width="0.35"/>
<circle cx="622.50" cy="173.03" r="0.75" fill="#666" stroke="#222" stroke-width="0.35"/>
<circle cx="621.20" cy="173.59" r="0.75" fill="#666" stroke="#222" stroke-width="0.35"/>
<circle cx="623.80" cy="173.77" r="0.75" fill="#666" stroke="#222" stroke-width="0.35"/>
<line x1="635.30" y1="175.88" x2="635.30" y2="175.41" stroke="#e2302a" stroke-width="0.85" />
<line x1="634.00" y1="175.41" x2="636.60" y2="175.41" stroke="#e2302a" stroke-width="0.85" />
<circle cx="635.30" cy="175.41" r="0.75" fill="#666" stroke="#222" stroke-width="0.35"/>
<circle cx="633.70" cy="175.65" r="0.75" fill="#666" stroke="#222" stroke-width="0.35"/>
<circle cx="636.90" cy="175.83" r="0.75" fill="#666" stroke="#222" stroke-width="0.35"/>
<circle cx="635.30" cy="176.02" r="0.75" fill="#666" stroke="#222" stroke-width="0.35"/>
<circle cx="634.00" cy="176.16" r="0.75" fill="#666" stroke="#222" stroke-width="0.35"/>
<circle cx="636.60" cy="176.19" r="0.75" fill="#666" stroke="#222" stroke-width="0.35"/>
<line x1="641.80" y1="174.95" x2="641.80" y2="174.18" stroke="#e2302a" stroke-width="0.85" />
<line x1="640.50" y1="174.18" x2="643.10" y2="174.18" stroke="#e2302a" stroke-width="0.85" />
<circle cx="641.80" cy="174.18" r="0.75" fill="#666" stroke="#222" stroke-width="0.35"/>
<circle cx="640.20" cy="174.56" r="0.75" fill="#666" stroke="#222" stroke-width="0.35"/>
<circle cx="643.40" cy="174.87" r="0.75" fill="#666" stroke="#222" stroke-width="0.35"/>
<circle cx="641.80" cy="175.18" r="0.75" fill="#666" stroke="#222" stroke-width="0.35"/>
<circle cx="640.50" cy="175.41" r="0.75" fill="#666" stroke="#222" stroke-width="0.35"/>
<circle cx="643.10" cy="175.49" r="0.75" fill="#666" stroke="#222" stroke-width="0.35"/>
<line x1="648.30" y1="175.41" x2="648.30" y2="174.95" stroke="#e2302a" stroke-width="0.85" />
<line x1="647.00" y1="174.95" x2="649.60" y2="174.95" stroke="#e2302a" stroke-width="0.85" />
<circle cx="648.30" cy="174.95" r="0.75" fill="#666" stroke="#222" stroke-width="0.35"/>
<circle cx="646.70" cy="175.18" r="0.75" fill="#666" stroke="#222" stroke-width="0.35"/>
<circle cx="649.90" cy="175.37" r="0.75" fill="#666" stroke="#222" stroke-width="0.35"/>
<circle cx="648.30" cy="175.55" r="0.75" fill="#666" stroke="#222" stroke-width="0.35"/>
<circle cx="647.00" cy="175.69" r="0.75" fill="#666" stroke="#222" stroke-width="0.35"/>
<circle cx="649.60" cy="175.74" r="0.75" fill="#666" stroke="#222" stroke-width="0.35"/>
<line x1="654.80" y1="175.72" x2="654.80" y2="175.26" stroke="#e2302a" stroke-width="0.85" />
<line x1="653.50" y1="175.26" x2="656.10" y2="175.26" stroke="#e2302a" stroke-width="0.85" />
<circle cx="654.80" cy="175.26" r="0.75" fill="#666" stroke="#222" stroke-width="0.35"/>
<circle cx="653.20" cy="175.49" r="0.75" fill="#666" stroke="#222" stroke-width="0.35"/>
<circle cx="656.40" cy="175.68" r="0.75" fill="#666" stroke="#222" stroke-width="0.35"/>
<circle cx="654.80" cy="175.86" r="0.75" fill="#666" stroke="#222" stroke-width="0.35"/>
<circle cx="653.50" cy="176.00" r="0.75" fill="#666" stroke="#222" stroke-width="0.35"/>
<circle cx="656.10" cy="176.05" r="0.75" fill="#666" stroke="#222" stroke-width="0.35"/>
<line x1="661.30" y1="111.55" x2="661.30" y2="106.91" stroke="#e2302a" stroke-width="0.85" />
<line x1="660.00" y1="106.91" x2="662.60" y2="106.91" stroke="#e2302a" stroke-width="0.85" />
<circle cx="661.30" cy="106.91" r="0.75" fill="#666" stroke="#222" stroke-width="0.35"/>
<circle cx="659.70" cy="109.23" r="0.75" fill="#666" stroke="#222" stroke-width="0.35"/>
<circle cx="662.90" cy="111.09" r="0.75" fill="#666" stroke="#222" stroke-width="0.35"/>
<circle cx="661.30" cy="112.95" r="0.75" fill="#666" stroke="#222" stroke-width="0.35"/>
<circle cx="660.00" cy="114.34" r="0.75" fill="#666" stroke="#222" stroke-width="0.35"/>
<circle cx="662.60" cy="114.81" r="0.75" fill="#666" stroke="#222" stroke-width="0.35"/>
<line x1="667.80" y1="143.33" x2="667.80" y2="140.23" stroke="#e2302a" stroke-width="0.85" />
<line x1="666.50" y1="140.23" x2="669.10" y2="140.23" stroke="#e2302a" stroke-width="0.85" />
<circle cx="667.80" cy="140.23" r="0.75" fill="#666" stroke="#222" stroke-width="0.35"/>
<circle cx="666.20" cy="141.78" r="0.75" fill="#666" stroke="#222" stroke-width="0.35"/>
<circle cx="669.40" cy="143.02" r="0.75" fill="#666" stroke="#222" stroke-width="0.35"/>
<circle cx="667.80" cy="144.26" r="0.75" fill="#666" stroke="#222" stroke-width="0.35"/>
<circle cx="666.50" cy="145.19" r="0.75" fill="#666" stroke="#222" stroke-width="0.35"/>
<circle cx="669.10" cy="145.50" r="0.75" fill="#666" stroke="#222" stroke-width="0.35"/>
<rect x="402.3" y="52.4" width="272.40000000000003" height="124.1" fill="none" stroke="#111" stroke-width="0.9"/>
<line x1="400.30" y1="176.50" x2="402.30" y2="176.50" stroke="#111" stroke-width="0.8" />
<text x="391.08" y="178.70" font-size="6.2" font-family='"Liberation Sans", sans-serif' font-weight="bold" fill="#111" text-anchor="start" textLength="8.62" lengthAdjust="spacingAndGlyphs" >0.0</text>
<line x1="400.30" y1="161.00" x2="402.30" y2="161.00" stroke="#111" stroke-width="0.8" />
<text x="391.08" y="163.20" font-size="6.2" font-family='"Liberation Sans", sans-serif' font-weight="bold" fill="#111" text-anchor="start" textLength="8.62" lengthAdjust="spacingAndGlyphs" >1.0</text>
<line x1="400.30" y1="145.50" x2="402.30" y2="145.50" stroke="#111" stroke-width="0.8" />
<text x="391.08" y="147.70" font-size="6.2" font-family='"Liberation Sans", sans-serif' font-weight="bold" fill="#111" text-anchor="start" textLength="8.62" lengthAdjust="spacingAndGlyphs" >2.0</text>
<line x1="400.30" y1="114.50" x2="402.30" y2="114.50" stroke="#111" stroke-width="0.8" />
<text x="391.08" y="116.70" font-size="6.2" font-family='"Liberation Sans", sans-serif' font-weight="bold" fill="#111" text-anchor="start" textLength="8.62" lengthAdjust="spacingAndGlyphs" >4.0</text>
<line x1="400.30" y1="83.50" x2="402.30" y2="83.50" stroke="#111" stroke-width="0.8" />
<text x="391.08" y="85.70" font-size="6.2" font-family='"Liberation Sans", sans-serif' font-weight="bold" fill="#111" text-anchor="start" textLength="8.62" lengthAdjust="spacingAndGlyphs" >6.0</text>
<line x1="400.30" y1="52.50" x2="402.30" y2="52.50" stroke="#111" stroke-width="0.8" />
<text x="391.08" y="54.70" font-size="6.2" font-family='"Liberation Sans", sans-serif' font-weight="bold" fill="#111" text-anchor="start" textLength="8.62" lengthAdjust="spacingAndGlyphs" >8.0</text>
<line x1="425.40" y1="176.50" x2="425.40" y2="178.80" stroke="#111" stroke-width="0.8" />
<text x="418.12" y="188.80" font-size="8.7" font-family='"Liberation Sans", sans-serif' font-weight="bold" fill="#111" text-anchor="start" textLength="14.98" lengthAdjust="spacingAndGlyphs" >Ctrl</text>
<line x1="470.70" y1="176.50" x2="470.70" y2="178.80" stroke="#111" stroke-width="0.8" />
<text x="462.68" y="188.80" font-size="8.7" font-family='"Liberation Sans", sans-serif' font-weight="bold" fill="#111" text-anchor="start" textLength="16.44" lengthAdjust="spacingAndGlyphs" >Ab1</text>
<line x1="516.00" y1="176.50" x2="516.00" y2="178.80" stroke="#111" stroke-width="0.8" />
<text x="507.98" y="188.80" font-size="8.7" font-family='"Liberation Sans", sans-serif' font-weight="bold" fill="#111" text-anchor="start" textLength="16.44" lengthAdjust="spacingAndGlyphs" >Ab2</text>
<line x1="561.30" y1="176.50" x2="561.30" y2="178.80" stroke="#111" stroke-width="0.8" />
<text x="553.28" y="188.80" font-size="8.7" font-family='"Liberation Sans", sans-serif' font-weight="bold" fill="#111" text-anchor="start" textLength="16.44" lengthAdjust="spacingAndGlyphs" >Ab3</text>
<line x1="606.60" y1="176.50" x2="606.60" y2="178.80" stroke="#111" stroke-width="0.8" />
<text x="598.58" y="188.80" font-size="8.7" font-family='"Liberation Sans", sans-serif' font-weight="bold" fill="#111" text-anchor="start" textLength="16.44" lengthAdjust="spacingAndGlyphs" >Ab4</text>
<line x1="651.90" y1="176.50" x2="651.90" y2="178.80" stroke="#111" stroke-width="0.8" />
<text x="643.88" y="188.80" font-size="8.7" font-family='"Liberation Sans", sans-serif' font-weight="bold" fill="#111" text-anchor="start" textLength="16.44" lengthAdjust="spacingAndGlyphs" >Ab5</text>
<g transform="translate(387.40,175.20) rotate(-90)">
<text x="0.00" y="0.00" font-size="6.8" font-family='"Liberation Sans", sans-serif' font-weight="bold" fill="#111" text-anchor="start" textLength="122.01" lengthAdjust="spacingAndGlyphs" >Relative fold change of reads percentage</text>
</g>
<rect x="640.10" y="55.00" width="8.30" height="5.00" fill="#d0241b" />
<text x="652.80" y="60.00" font-size="7.3" font-family='"Liberation Sans", sans-serif' font-weight="bold" fill="#111" text-anchor="start" >CP-1</text>
<rect x="640.10" y="61.62" width="8.30" height="5.00" fill="#f0c238" />
<text x="652.80" y="66.62" font-size="7.3" font-family='"Liberation Sans", sans-serif' font-weight="bold" fill="#111" text-anchor="start" >CP-2</text>
<rect x="640.10" y="68.24" width="8.30" height="5.00" fill="#92e04e" />
<text x="652.80" y="73.24" font-size="7.3" font-family='"Liberation Sans", sans-serif' font-weight="bold" fill="#111" text-anchor="start" >CP-3</text>
<rect x="640.10" y="74.86" width="8.30" height="5.00" fill="#bb4f88" />
<text x="652.80" y="79.86" font-size="7.3" font-family='"Liberation Sans", sans-serif' font-weight="bold" fill="#111" text-anchor="start" >CP-4</text>
<rect x="640.10" y="81.48" width="8.30" height="5.00" fill="#57c2f2" />
<text x="652.80" y="86.48" font-size="7.3" font-family='"Liberation Sans", sans-serif' font-weight="bold" fill="#111" text-anchor="start" >CP-5</text>
<rect x="640.10" y="88.10" width="8.30" height="5.00" fill="#6f2fb8" />
<text x="652.80" y="93.10" font-size="7.3" font-family='"Liberation Sans", sans-serif' font-weight="bold" fill="#111" text-anchor="start" >CP-6</text>
<line x1="388.20" y1="211.00" x2="675.00" y2="211.00" stroke="#333" stroke-width="1.4" />
<line x1="388.20" y1="242.60" x2="675.00" y2="242.60" stroke="#333" stroke-width="1.4" />
<text x="388.90" y="221.7" font-size="8.6" font-family='"Liberation Sans", sans-serif' fill="#0a0a0a" stroke="#0a0a0a" stroke-width="0.12" textLength="82.10" lengthAdjust="spacingAndGlyphs"><tspan font-weight="bold">F1:</tspan> GSDY<tspan fill="#e5322b" stroke="#e5322b">A</tspan>DDDDKSG</text>
<text x="484.10" y="221.7" font-size="8.6" font-family='"Liberation Sans", sans-serif' fill="#0a0a0a" stroke="#0a0a0a" stroke-width="0.12" textLength="82.29" lengthAdjust="spacingAndGlyphs"><tspan font-weight="bold">F2:</tspan> GSDYKL<tspan fill="#e5322b" stroke="#e5322b">K</tspan>DDKSG</text>
<text x="579.70" y="221.7" font-size="8.6" font-family='"Liberation Sans", sans-serif' fill="#0a0a0a" stroke="#0a0a0a" stroke-width="0.12" textLength="82.49" lengthAdjust="spacingAndGlyphs"><tspan font-weight="bold">F3:</tspan> GSDYKD<tspan fill="#e5322b" stroke="#e5322b">A</tspan>DDKSG</text>
<text x="388.90" y="237.6" font-size="8.6" font-family='"Liberation Sans", sans-serif' fill="#0a0a0a" stroke="#0a0a0a" stroke-width="0.12" textLength="82.08" lengthAdjust="spacingAndGlyphs"><tspan font-weight="bold">F4:</tspan> GSDYKD<tspan fill="#e5322b" stroke="#e5322b">E</tspan>D<tspan fill="#e5322b" stroke="#e5322b">L</tspan><tspan fill="#e5322b" stroke="#e5322b">L</tspan>SG</text>
<text x="484.40" y="237.6" font-size="8.6" font-family='"Liberation Sans", sans-serif' fill="#0a0a0a" stroke="#0a0a0a" stroke-width="0.12" textLength="94.10" lengthAdjust="spacingAndGlyphs"><tspan font-weight="bold">FLAG:</tspan> GSDYKDDDDKSG</text>
<rect x="409.30" y="327.00" width="14.10" height="49.20" fill="#cce0f7" />
<rect x="424.75" y="327.00" width="14.10" height="49.20" fill="#9cc4f4" />
<rect x="440.20" y="327.00" width="14.10" height="49.20" fill="#67a5f6" />
<rect x="455.65" y="327.00" width="14.10" height="49.20" fill="#3f7ef5" />
<rect x="471.10" y="327.00" width="14.10" height="49.20" fill="#56bdef" />
<rect x="500.50" y="370.10" width="14.10" height="6.10" fill="#cce0f7" />
<rect x="515.95" y="344.91" width="14.10" height="31.29" fill="#9cc4f4" />
<rect x="531.40" y="340.48" width="14.10" height="35.72" fill="#67a5f6" />
<rect x="546.85" y="292.07" width="14.10" height="84.13" fill="#3f7ef5" />
<rect x="562.30" y="314.21" width="14.10" height="61.99" fill="#56bdef" />
<rect x="591.70" y="330.94" width="14.10" height="45.26" fill="#cce0f7" />
<rect x="607.15" y="362.92" width="14.10" height="13.28" fill="#9cc4f4" />
<rect x="622.60" y="351.60" width="14.10" height="24.60" fill="#67a5f6" />
<rect x="638.05" y="298.46" width="14.10" height="77.74" fill="#3f7ef5" />
<rect x="653.50" y="285.18" width="14.10" height="91.02" fill="#56bdef" />
<line x1="416.30" y1="327.00" x2="416.30" y2="320.11" stroke="#e87070" stroke-width="0.9" />
<line x1="414.90" y1="320.11" x2="417.70" y2="320.11" stroke="#e87070" stroke-width="0.9" />
<circle cx="416.30" cy="320.11" r="0.9" fill="#777" stroke="#222" stroke-width="0.4"/>
<circle cx="416.30" cy="328.48" r="0.9" fill="#777" stroke="#222" stroke-width="0.4"/>
<circle cx="416.30" cy="331.92" r="0.9" fill="#777" stroke="#222" stroke-width="0.4"/>
<line x1="431.75" y1="327.00" x2="431.75" y2="312.24" stroke="#e87070" stroke-width="0.9" />
<line x1="430.35" y1="312.24" x2="433.15" y2="312.24" stroke="#e87070" stroke-width="0.9" />
<circle cx="431.75" cy="312.24" r="0.9" fill="#777" stroke="#222" stroke-width="0.4"/>
<circle cx="431.75" cy="327.98" r="0.9" fill="#777" stroke="#222" stroke-width="0.4"/>
<circle cx="431.75" cy="340.28" r="0.9" fill="#777" stroke="#222" stroke-width="0.4"/>
<line x1="447.20" y1="327.00" x2="447.20" y2="322.08" stroke="#e87070" stroke-width="0.9" />
<line x1="445.80" y1="322.08" x2="448.60" y2="322.08" stroke="#e87070" stroke-width="0.9" />
<circle cx="447.20" cy="322.08" r="0.9" fill="#777" stroke="#222" stroke-width="0.4"/>
<circle cx="447.20" cy="325.52" r="0.9" fill="#777" stroke="#222" stroke-width="0.4"/>
<circle cx="447.20" cy="332.41" r="0.9" fill="#777" stroke="#222" stroke-width="0.4"/>
<line x1="462.65" y1="327.00" x2="462.65" y2="321.59" stroke="#e87070" stroke-width="0.9" />
<line x1="461.25" y1="321.59" x2="464.05" y2="321.59" stroke="#e87070" stroke-width="0.9" />
<circle cx="462.65" cy="321.59" r="0.9" fill="#777" stroke="#222" stroke-width="0.4"/>
<circle cx="462.65" cy="326.51" r="0.9" fill="#777" stroke="#222" stroke-width="0.4"/>
<circle cx="462.65" cy="331.92" r="0.9" fill="#777" stroke="#222" stroke-width="0.4"/>
<line x1="478.10" y1="327.00" x2="478.10" y2="313.22" stroke="#e87070" stroke-width="0.9" />
<line x1="476.70" y1="313.22" x2="479.50" y2="313.22" stroke="#e87070" stroke-width="0.9" />
<circle cx="478.10" cy="313.22" r="0.9" fill="#777" stroke="#222" stroke-width="0.4"/>
<circle cx="478.10" cy="325.03" r="0.9" fill="#777" stroke="#222" stroke-width="0.4"/>
<circle cx="478.10" cy="341.76" r="0.9" fill="#777" stroke="#222" stroke-width="0.4"/>
<line x1="507.50" y1="370.10" x2="507.50" y2="369.56" stroke="#e87070" stroke-width="0.9" />
<line x1="506.10" y1="369.56" x2="508.90" y2="369.56" stroke="#e87070" stroke-width="0.9" />
<circle cx="504.50" cy="369.56" r="0.9" fill="#777" stroke="#222" stroke-width="0.4"/>
<circle cx="507.50" cy="369.80" r="0.9" fill="#777" stroke="#222" stroke-width="0.4"/>
<circle cx="510.50" cy="370.05" r="0.9" fill="#777" stroke="#222" stroke-width="0.4"/>
<line x1="522.95" y1="344.91" x2="522.95" y2="336.35" stroke="#e87070" stroke-width="0.9" />
<line x1="521.55" y1="336.35" x2="524.35" y2="336.35" stroke="#e87070" stroke-width="0.9" />
<circle cx="522.95" cy="336.35" r="0.9" fill="#777" stroke="#222" stroke-width="0.4"/>
<circle cx="520.45" cy="349.14" r="0.9" fill="#777" stroke="#222" stroke-width="0.4"/>
<circle cx="525.45" cy="349.14" r="0.9" fill="#777" stroke="#222" stroke-width="0.4"/>
<line x1="538.40" y1="340.48" x2="538.40" y2="338.81" stroke="#e87070" stroke-width="0.9" />
<line x1="537.00" y1="338.81" x2="539.80" y2="338.81" stroke="#e87070" stroke-width="0.9" />
<circle cx="535.40" cy="338.81" r="0.9" fill="#777" stroke="#222" stroke-width="0.4"/>
<circle cx="538.40" cy="340.78" r="0.9" fill="#777" stroke="#222" stroke-width="0.4"/>
<circle cx="541.40" cy="340.78" r="0.9" fill="#777" stroke="#222" stroke-width="0.4"/>
<line x1="553.85" y1="292.07" x2="553.85" y2="286.16" stroke="#e87070" stroke-width="0.9" />
<line x1="552.45" y1="286.16" x2="555.25" y2="286.16" stroke="#e87070" stroke-width="0.9" />
<circle cx="553.85" cy="286.16" r="0.9" fill="#777" stroke="#222" stroke-width="0.4"/>
<circle cx="553.85" cy="292.07" r="0.9" fill="#777" stroke="#222" stroke-width="0.4"/>
<circle cx="553.85" cy="297.97" r="0.9" fill="#777" stroke="#222" stroke-width="0.4"/>
<line x1="569.30" y1="314.21" x2="569.30" y2="289.12" stroke="#e87070" stroke-width="0.9" />
<line x1="567.90" y1="289.12" x2="570.70" y2="289.12" stroke="#e87070" stroke-width="0.9" />
<circle cx="569.30" cy="289.12" r="0.9" fill="#777" stroke="#222" stroke-width="0.4"/>
<circle cx="569.30" cy="309.29" r="0.9" fill="#777" stroke="#222" stroke-width="0.4"/>
<circle cx="569.30" cy="343.24" r="0.9" fill="#777" stroke="#222" stroke-width="0.4"/>
<line x1="598.70" y1="330.94" x2="598.70" y2="323.80" stroke="#e87070" stroke-width="0.9" />
<line x1="597.30" y1="323.80" x2="600.10" y2="323.80" stroke="#e87070" stroke-width="0.9" />
<circle cx="598.70" cy="323.80" r="0.9" fill="#777" stroke="#222" stroke-width="0.4"/>
<circle cx="598.70" cy="330.44" r="0.9" fill="#777" stroke="#222" stroke-width="0.4"/>
<circle cx="598.70" cy="338.81" r="0.9" fill="#777" stroke="#222" stroke-width="0.4"/>
<line x1="614.15" y1="362.92" x2="614.15" y2="356.03" stroke="#e87070" stroke-width="0.9" />
<line x1="612.75" y1="356.03" x2="615.55" y2="356.03" stroke="#e87070" stroke-width="0.9" />
<circle cx="614.15" cy="356.03" r="0.9" fill="#777" stroke="#222" stroke-width="0.4"/>
<circle cx="614.15" cy="360.46" r="0.9" fill="#777" stroke="#222" stroke-width="0.4"/>
<circle cx="614.15" cy="368.82" r="0.9" fill="#777" stroke="#222" stroke-width="0.4"/>
<line x1="629.60" y1="351.60" x2="629.60" y2="341.27" stroke="#e87070" stroke-width="0.9" />
<line x1="628.20" y1="341.27" x2="631.00" y2="341.27" stroke="#e87070" stroke-width="0.9" />
<circle cx="629.60" cy="341.27" r="0.9" fill="#777" stroke="#222" stroke-width="0.4"/>
<circle cx="629.60" cy="351.11" r="0.9" fill="#777" stroke="#222" stroke-width="0.4"/>
<circle cx="629.60" cy="361.93" r="0.9" fill="#777" stroke="#222" stroke-width="0.4"/>
<line x1="645.05" y1="298.46" x2="645.05" y2="291.08" stroke="#e87070" stroke-width="0.9" />
<line x1="643.65" y1="291.08" x2="646.45" y2="291.08" stroke="#e87070" stroke-width="0.9" />
<circle cx="645.05" cy="291.08" r="0.9" fill="#777" stroke="#222" stroke-width="0.4"/>
<circle cx="645.05" cy="300.43" r="0.9" fill="#777" stroke="#222" stroke-width="0.4"/>
<circle cx="645.05" cy="303.88" r="0.9" fill="#777" stroke="#222" stroke-width="0.4"/>
<line x1="660.50" y1="285.18" x2="660.50" y2="259.60" stroke="#e87070" stroke-width="0.9" />
<line x1="659.10" y1="259.60" x2="661.90" y2="259.60" stroke="#e87070" stroke-width="0.9" />
<circle cx="660.50" cy="259.60" r="0.9" fill="#777" stroke="#222" stroke-width="0.4"/>
<circle cx="660.50" cy="284.20" r="0.9" fill="#777" stroke="#222" stroke-width="0.4"/>
<circle cx="660.50" cy="310.76" r="0.9" fill="#777" stroke="#222" stroke-width="0.4"/>
<rect x="402.5" y="252.9" width="271.79999999999995" height="123.29999999999998" fill="none" stroke="#111" stroke-width="0.9"/>
<line x1="400.50" y1="376.20" x2="402.50" y2="376.20" stroke="#111" stroke-width="0.8" />
<text x="389.34" y="378.90" font-size="7.6" font-family='"Liberation Sans", sans-serif' font-weight="bold" fill="#111" text-anchor="start" textLength="10.57" lengthAdjust="spacingAndGlyphs" >0.0</text>
<line x1="400.50" y1="351.60" x2="402.50" y2="351.60" stroke="#111" stroke-width="0.8" />
<text x="389.34" y="354.30" font-size="7.6" font-family='"Liberation Sans", sans-serif' font-weight="bold" fill="#111" text-anchor="start" textLength="10.57" lengthAdjust="spacingAndGlyphs" >0.5</text>
<line x1="400.50" y1="327.00" x2="402.50" y2="327.00" stroke="#111" stroke-width="0.8" />
<text x="389.34" y="329.70" font-size="7.6" font-family='"Liberation Sans", sans-serif' font-weight="bold" fill="#111" text-anchor="start" textLength="10.57" lengthAdjust="spacingAndGlyphs" >1.0</text>
<line x1="400.50" y1="302.40" x2="402.50" y2="302.40" stroke="#111" stroke-width="0.8" />
<text x="389.34" y="305.10" font-size="7.6" font-family='"Liberation Sans", sans-serif' font-weight="bold" fill="#111" text-anchor="start" textLength="10.57" lengthAdjust="spacingAndGlyphs" >1.5</text>
<line x1="400.50" y1="277.80" x2="402.50" y2="277.80" stroke="#111" stroke-width="0.8" />
<text x="389.34" y="280.50" font-size="7.6" font-family='"Liberation Sans", sans-serif' font-weight="bold" fill="#111" text-anchor="start" textLength="10.57" lengthAdjust="spacingAndGlyphs" >2.0</text>
<line x1="400.50" y1="253.20" x2="402.50" y2="253.20" stroke="#111" stroke-width="0.8" />
<text x="389.34" y="255.90" font-size="7.6" font-family='"Liberation Sans", sans-serif' font-weight="bold" fill="#111" text-anchor="start" textLength="10.57" lengthAdjust="spacingAndGlyphs" >2.5</text>
<line x1="447.40" y1="376.20" x2="447.40" y2="378.50" stroke="#111" stroke-width="0.8" />
<text x="439.60" y="387.60" font-size="9.3" font-family='"Liberation Sans", sans-serif' font-weight="bold" fill="#111" text-anchor="start" textLength="15.22" lengthAdjust="spacingAndGlyphs" >Ctrl</text>
<line x1="538.60" y1="376.20" x2="538.60" y2="378.50" stroke="#111" stroke-width="0.8" />
<text x="508.50" y="387.60" font-size="9.3" font-family='"Liberation Sans", sans-serif' font-weight="bold" fill="#111" text-anchor="start" textLength="60.31" lengthAdjust="spacingAndGlyphs" >Anti-FLAG M2</text>
<line x1="629.80" y1="376.20" x2="629.80" y2="378.50" stroke="#111" stroke-width="0.8" />
<text x="583.90" y="387.60" font-size="9.3" font-family='"Liberation Sans", sans-serif' font-weight="bold" fill="#111" text-anchor="start" textLength="91.82" lengthAdjust="spacingAndGlyphs" >Flag-Tag Mouse mAb</text>
<g transform="translate(387.60,380.30) rotate(-90)">
<text x="0.00" y="0.00" font-size="7.0" font-family='"Liberation Sans", sans-serif' font-weight="bold" fill="#111" text-anchor="start" textLength="130.01" lengthAdjust="spacingAndGlyphs" >Relative fold change of reads percentage</text>
</g>
<rect x="456.60" y="261.60" width="9.00" height="5.30" fill="#cce0f7" />
<text x="471.00" y="267.30" font-size="9" font-family='"Liberation Sans", sans-serif' font-weight="bold" fill="#111" text-anchor="start" textLength="10.50" lengthAdjust="spacingAndGlyphs" >F1</text>
<rect x="488.90" y="261.60" width="9.00" height="5.30" fill="#9cc4f4" />
<text x="502.50" y="267.30" font-size="9" font-family='"Liberation Sans", sans-serif' font-weight="bold" fill="#111" text-anchor="start" textLength="10.50" lengthAdjust="spacingAndGlyphs" >F2</text>
<rect x="520.40" y="261.60" width="9.00" height="5.30" fill="#67a5f6" />
<text x="534.60" y="267.30" font-size="9" font-family='"Liberation Sans", sans-serif' font-weight="bold" fill="#111" text-anchor="start" textLength="10.50" lengthAdjust="spacingAndGlyphs" >F3</text>
<rect x="552.50" y="261.60" width="9.00" height="5.30" fill="#3f7ef5" />
<text x="566.10" y="267.30" font-size="9" font-family='"Liberation Sans", sans-serif' font-weight="bold" fill="#111" text-anchor="start" textLength="10.50" lengthAdjust="spacingAndGlyphs" >F4</text>
<rect x="584.50" y="261.60" width="9.00" height="5.30" fill="#56bdef" />
<text x="598.40" y="267.30" font-size="9" font-family='"Liberation Sans", sans-serif' font-weight="bold" fill="#111" text-anchor="start" textLength="23.76" lengthAdjust="spacingAndGlyphs" >FLAG</text>
</svg>
</body></html>
